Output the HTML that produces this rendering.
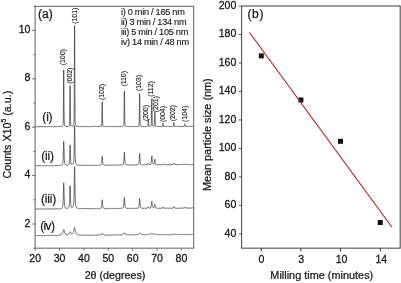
<!DOCTYPE html>
<html><head><meta charset="utf-8"><title>XRD and particle size</title>
<style>html,body{margin:0;padding:0;background:#fff}svg{display:block;will-change:transform;filter:blur(0.4px)}text{font-family:"Liberation Sans",sans-serif}</style></head>
<body>
<svg width="401" height="283" viewBox="0 0 401 283">
<rect width="401" height="283" fill="#fff"/>
<clipPath id="ca"><rect x="35.1" y="6.3" width="158.6" height="241.85"/></clipPath>
<g clip-path="url(#ca)" fill="none" stroke="#333" stroke-width="0.72" stroke-linejoin="round">
<path d="M35.20,126.56 L35.30,126.67 L35.39,126.69 L35.49,126.81 L35.59,126.84 L35.69,126.88 L35.78,126.78 L35.88,126.79 L35.98,126.84 L36.08,126.79 L36.17,126.70 L36.27,126.60 L36.37,126.57 L36.47,126.51 L36.56,126.60 L36.66,126.74 L36.76,126.78 L36.86,126.84 L36.95,126.89 L37.05,126.87 L37.15,126.69 L37.25,126.74 L37.34,126.73 L37.44,126.70 L37.54,126.66 L37.64,126.75 L37.73,126.81 L37.83,126.76 L37.93,126.68 L38.03,126.60 L38.12,126.66 L38.22,126.65 L38.32,126.69 L38.42,126.87 L38.51,127.04 L38.61,127.02 L38.71,126.92 L38.81,126.88 L38.90,126.84 L39.00,126.75 L39.10,126.71 L39.20,126.87 L39.29,126.90 L39.39,126.84 L39.49,126.93 L39.59,126.90 L39.68,126.93 L39.78,126.91 L39.88,126.82 L39.98,126.72 L40.07,126.66 L40.17,126.47 L40.27,126.36 L40.37,126.49 L40.46,126.49 L40.56,126.66 L40.66,126.76 L40.76,126.95 L40.85,126.83 L40.95,126.80 L41.05,126.70 L41.15,126.57 L41.24,126.49 L41.34,126.55 L41.44,126.61 L41.54,126.66 L41.63,126.74 L41.73,126.59 L41.83,126.66 L41.93,126.61 L42.02,126.56 L42.12,126.48 L42.22,126.57 L42.32,126.47 L42.41,126.48 L42.51,126.46 L42.61,126.64 L42.71,126.59 L42.80,126.71 L42.90,126.73 L43.00,126.71 L43.10,126.68 L43.19,126.75 L43.29,126.60 L43.39,126.62 L43.49,126.70 L43.58,126.82 L43.68,126.89 L43.78,126.99 L43.88,127.02 L43.97,127.02 L44.07,126.83 L44.17,126.81 L44.27,126.78 L44.36,126.71 L44.46,126.70 L44.56,126.74 L44.66,126.59 L44.75,126.53 L44.85,126.64 L44.95,126.60 L45.05,126.55 L45.14,126.60 L45.24,126.64 L45.34,126.60 L45.44,126.63 L45.53,126.63 L45.63,126.68 L45.73,126.72 L45.83,126.70 L45.92,126.68 L46.02,126.68 L46.12,126.73 L46.22,126.68 L46.31,126.62 L46.41,126.56 L46.51,126.65 L46.61,126.54 L46.70,126.60 L46.80,126.63 L46.90,126.70 L47.00,126.75 L47.09,126.81 L47.19,126.76 L47.29,126.79 L47.38,126.73 L47.48,126.66 L47.58,126.72 L47.68,126.75 L47.77,126.63 L47.87,126.60 L47.97,126.59 L48.07,126.52 L48.16,126.54 L48.26,126.67 L48.36,126.67 L48.46,126.67 L48.55,126.80 L48.65,126.82 L48.75,126.79 L48.85,126.83 L48.94,126.73 L49.04,126.67 L49.14,126.58 L49.24,126.56 L49.33,126.57 L49.43,126.60 L49.53,126.53 L49.63,126.62 L49.72,126.58 L49.82,126.64 L49.92,126.69 L50.02,126.72 L50.11,126.64 L50.21,126.74 L50.31,126.68 L50.41,126.69 L50.50,126.63 L50.60,126.70 L50.70,126.65 L50.80,126.67 L50.89,126.73 L50.99,126.64 L51.09,126.59 L51.19,126.68 L51.28,126.59 L51.38,126.57 L51.48,126.71 L51.58,126.65 L51.67,126.60 L51.77,126.71 L51.87,126.68 L51.97,126.71 L52.06,126.85 L52.16,126.88 L52.26,126.86 L52.36,126.77 L52.45,126.73 L52.55,126.54 L52.65,126.42 L52.75,126.44 L52.84,126.51 L52.94,126.66 L53.04,126.82 L53.14,126.92 L53.23,126.87 L53.33,126.83 L53.43,126.74 L53.53,126.72 L53.62,126.75 L53.72,126.77 L53.82,126.79 L53.92,126.74 L54.01,126.75 L54.11,126.54 L54.21,126.47 L54.31,126.49 L54.40,126.54 L54.50,126.51 L54.60,126.62 L54.70,126.69 L54.79,126.65 L54.89,126.58 L54.99,126.48 L55.09,126.42 L55.18,126.43 L55.28,126.43 L55.38,126.50 L55.48,126.61 L55.57,126.57 L55.67,126.59 L55.77,126.49 L55.87,126.49 L55.96,126.44 L56.06,126.49 L56.16,126.46 L56.26,126.55 L56.35,126.54 L56.45,126.58 L56.55,126.66 L56.65,126.69 L56.74,126.62 L56.84,126.62 L56.94,126.49 L57.04,126.63 L57.13,126.59 L57.23,126.65 L57.33,126.66 L57.43,126.70 L57.52,126.50 L57.62,126.52 L57.72,126.52 L57.82,126.34 L57.91,126.39 L58.01,126.41 L58.11,126.42 L58.21,126.43 L58.30,126.67 L58.40,126.69 L58.50,126.57 L58.60,126.48 L58.69,126.45 L58.79,126.31 L58.89,126.18 L58.99,126.29 L59.08,126.23 L59.18,126.20 L59.28,126.25 L59.38,126.26 L59.47,126.43 L59.57,126.58 L59.67,126.62 L59.76,126.68 L59.86,126.78 L59.96,126.68 L60.06,126.68 L60.15,126.53 L60.25,126.44 L60.35,126.43 L60.45,126.31 L60.54,126.28 L60.64,126.38 L60.74,126.39 L60.84,126.28 L60.93,126.43 L61.03,126.36 L61.13,126.39 L61.23,126.47 L61.32,126.48 L61.42,126.44 L61.52,126.37 L61.62,126.33 L61.71,126.20 L61.81,126.23 L61.91,126.09 L62.01,126.26 L62.10,126.24 L62.20,126.26 L62.30,126.19 L62.40,126.17 L62.49,125.93 L62.59,125.86 L62.69,125.57 L62.79,125.26 L62.88,124.99 L62.98,124.60 L63.08,123.73 L63.18,121.96 L63.27,117.94 L63.37,110.00 L63.47,97.22 L63.57,81.71 L63.66,69.93 L63.76,70.13 L63.86,81.96 L63.96,97.58 L64.05,110.24 L64.15,118.12 L64.25,122.13 L64.35,124.01 L64.44,124.78 L64.54,125.21 L64.64,125.58 L64.74,125.80 L64.83,125.90 L64.93,125.96 L65.03,126.17 L65.13,126.10 L65.22,126.06 L65.32,126.08 L65.42,126.19 L65.52,126.19 L65.61,126.32 L65.71,126.49 L65.81,126.52 L65.91,126.59 L66.00,126.60 L66.10,126.69 L66.20,126.46 L66.30,126.46 L66.39,126.32 L66.49,126.27 L66.59,126.27 L66.69,126.52 L66.78,126.56 L66.88,126.56 L66.98,126.61 L67.08,126.48 L67.17,126.30 L67.27,126.36 L67.37,126.39 L67.47,126.28 L67.56,126.35 L67.66,126.52 L67.76,126.44 L67.86,126.47 L67.95,126.55 L68.05,126.55 L68.15,126.41 L68.25,126.51 L68.34,126.41 L68.44,126.31 L68.54,126.15 L68.64,126.21 L68.73,126.01 L68.83,126.18 L68.93,126.18 L69.03,126.16 L69.12,126.01 L69.22,125.85 L69.32,125.43 L69.42,124.99 L69.51,124.14 L69.61,122.15 L69.71,118.20 L69.81,110.94 L69.90,100.67 L70.00,90.23 L70.10,85.51 L70.20,90.04 L70.29,100.44 L70.39,110.77 L70.49,118.10 L70.59,122.20 L70.68,124.17 L70.78,124.98 L70.88,125.28 L70.98,125.54 L71.07,125.62 L71.17,125.76 L71.27,125.72 L71.37,125.95 L71.46,125.95 L71.56,126.08 L71.66,126.09 L71.75,126.12 L71.85,126.12 L71.95,126.23 L72.05,126.27 L72.14,126.26 L72.24,126.43 L72.34,126.34 L72.44,126.32 L72.53,126.30 L72.63,126.31 L72.73,126.14 L72.83,126.13 L72.92,126.03 L73.02,125.89 L73.12,125.80 L73.22,125.87 L73.31,125.72 L73.41,125.52 L73.51,125.24 L73.61,124.84 L73.70,124.28 L73.80,123.73 L73.90,122.95 L74.00,121.32 L74.09,117.55 L74.19,109.07 L74.29,93.18 L74.39,69.08 L74.48,42.26 L74.58,25.58 L74.68,31.67 L74.78,55.34 L74.87,81.95 L74.97,102.22 L75.07,114.26 L75.17,120.00 L75.26,122.45 L75.36,123.53 L75.46,124.09 L75.56,124.51 L75.65,124.86 L75.75,125.19 L75.85,125.42 L75.95,125.57 L76.04,125.67 L76.14,125.90 L76.24,125.98 L76.34,126.10 L76.43,126.32 L76.53,126.41 L76.63,126.29 L76.73,126.22 L76.82,126.24 L76.92,126.13 L77.02,126.04 L77.12,126.19 L77.21,126.31 L77.31,126.30 L77.41,126.36 L77.51,126.54 L77.60,126.51 L77.70,126.46 L77.80,126.39 L77.90,126.31 L77.99,126.24 L78.09,126.13 L78.19,126.16 L78.29,126.31 L78.38,126.38 L78.48,126.39 L78.58,126.47 L78.68,126.52 L78.77,126.38 L78.87,126.41 L78.97,126.41 L79.07,126.39 L79.16,126.38 L79.26,126.47 L79.36,126.42 L79.46,126.43 L79.55,126.52 L79.65,126.57 L79.75,126.64 L79.85,126.74 L79.94,126.62 L80.04,126.63 L80.14,126.60 L80.24,126.59 L80.33,126.59 L80.43,126.61 L80.53,126.51 L80.63,126.55 L80.72,126.48 L80.82,126.50 L80.92,126.63 L81.02,126.74 L81.11,126.76 L81.21,126.74 L81.31,126.66 L81.41,126.59 L81.50,126.54 L81.60,126.57 L81.70,126.59 L81.80,126.68 L81.89,126.66 L81.99,126.62 L82.09,126.50 L82.19,126.52 L82.28,126.57 L82.38,126.57 L82.48,126.53 L82.58,126.66 L82.67,126.63 L82.77,126.46 L82.87,126.57 L82.97,126.54 L83.06,126.48 L83.16,126.55 L83.26,126.54 L83.36,126.46 L83.45,126.60 L83.55,126.53 L83.65,126.58 L83.75,126.56 L83.84,126.62 L83.94,126.57 L84.04,126.64 L84.13,126.50 L84.23,126.56 L84.33,126.56 L84.43,126.53 L84.52,126.52 L84.62,126.59 L84.72,126.65 L84.82,126.66 L84.91,126.75 L85.01,126.68 L85.11,126.65 L85.21,126.57 L85.30,126.49 L85.40,126.50 L85.50,126.67 L85.60,126.70 L85.69,126.75 L85.79,126.77 L85.89,126.76 L85.99,126.60 L86.08,126.66 L86.18,126.74 L86.28,126.74 L86.38,126.56 L86.47,126.60 L86.57,126.56 L86.67,126.45 L86.77,126.42 L86.86,126.49 L86.96,126.54 L87.06,126.52 L87.16,126.55 L87.25,126.57 L87.35,126.53 L87.45,126.39 L87.55,126.38 L87.64,126.42 L87.74,126.45 L87.84,126.55 L87.94,126.65 L88.03,126.57 L88.13,126.53 L88.23,126.45 L88.33,126.44 L88.42,126.53 L88.52,126.65 L88.62,126.72 L88.72,126.86 L88.81,126.96 L88.91,126.86 L89.01,126.76 L89.11,126.73 L89.20,126.72 L89.30,126.70 L89.40,126.79 L89.50,126.69 L89.59,126.80 L89.69,126.74 L89.79,126.60 L89.89,126.54 L89.98,126.67 L90.08,126.50 L90.18,126.57 L90.28,126.58 L90.37,126.50 L90.47,126.55 L90.57,126.64 L90.67,126.57 L90.76,126.54 L90.86,126.55 L90.96,126.45 L91.06,126.44 L91.15,126.51 L91.25,126.55 L91.35,126.61 L91.45,126.71 L91.54,126.67 L91.64,126.58 L91.74,126.54 L91.84,126.62 L91.93,126.52 L92.03,126.59 L92.13,126.63 L92.23,126.70 L92.32,126.55 L92.42,126.40 L92.52,126.31 L92.62,126.26 L92.71,126.20 L92.81,126.36 L92.91,126.51 L93.01,126.60 L93.10,126.53 L93.20,126.50 L93.30,126.40 L93.40,126.49 L93.49,126.32 L93.59,126.40 L93.69,126.47 L93.79,126.47 L93.88,126.52 L93.98,126.59 L94.08,126.55 L94.18,126.54 L94.27,126.56 L94.37,126.52 L94.47,126.50 L94.57,126.55 L94.66,126.57 L94.76,126.61 L94.86,126.50 L94.96,126.47 L95.05,126.46 L95.15,126.41 L95.25,126.30 L95.35,126.25 L95.44,126.31 L95.54,126.35 L95.64,126.42 L95.74,126.50 L95.83,126.56 L95.93,126.52 L96.03,126.53 L96.12,126.49 L96.22,126.55 L96.32,126.51 L96.42,126.59 L96.51,126.54 L96.61,126.59 L96.71,126.55 L96.81,126.66 L96.90,126.54 L97.00,126.54 L97.10,126.51 L97.20,126.54 L97.29,126.54 L97.39,126.60 L97.49,126.53 L97.59,126.60 L97.68,126.59 L97.78,126.57 L97.88,126.64 L97.98,126.83 L98.07,126.74 L98.17,126.64 L98.27,126.72 L98.37,126.67 L98.46,126.52 L98.56,126.46 L98.66,126.53 L98.76,126.30 L98.85,126.28 L98.95,126.38 L99.05,126.38 L99.15,126.41 L99.24,126.49 L99.34,126.59 L99.44,126.50 L99.54,126.58 L99.63,126.45 L99.73,126.45 L99.83,126.35 L99.93,126.38 L100.02,126.28 L100.12,126.44 L100.22,126.45 L100.32,126.44 L100.41,126.39 L100.51,126.39 L100.61,126.06 L100.71,126.05 L100.80,126.00 L100.90,125.99 L101.00,125.91 L101.10,126.19 L101.19,126.03 L101.29,126.03 L101.39,126.05 L101.49,126.02 L101.58,125.56 L101.68,124.86 L101.78,123.05 L101.88,119.38 L101.97,113.72 L102.07,106.91 L102.17,101.84 L102.27,101.81 L102.36,107.00 L102.46,113.83 L102.56,119.54 L102.66,122.98 L102.75,124.68 L102.85,125.56 L102.95,125.92 L103.05,126.05 L103.14,126.05 L103.24,126.27 L103.34,126.35 L103.44,126.45 L103.53,126.45 L103.63,126.46 L103.73,126.46 L103.83,126.38 L103.92,126.31 L104.02,126.31 L104.12,126.37 L104.22,126.37 L104.31,126.37 L104.41,126.36 L104.51,126.41 L104.61,126.42 L104.70,126.43 L104.80,126.47 L104.90,126.49 L105.00,126.44 L105.09,126.53 L105.19,126.51 L105.29,126.47 L105.39,126.56 L105.48,126.49 L105.58,126.39 L105.68,126.43 L105.78,126.61 L105.87,126.47 L105.97,126.62 L106.07,126.67 L106.17,126.63 L106.26,126.58 L106.36,126.70 L106.46,126.71 L106.56,126.69 L106.65,126.69 L106.75,126.61 L106.85,126.53 L106.95,126.48 L107.04,126.47 L107.14,126.54 L107.24,126.45 L107.34,126.47 L107.43,126.56 L107.53,126.63 L107.63,126.50 L107.73,126.69 L107.82,126.73 L107.92,126.59 L108.02,126.59 L108.12,126.63 L108.21,126.45 L108.31,126.47 L108.41,126.43 L108.50,126.42 L108.60,126.54 L108.70,126.62 L108.80,126.56 L108.89,126.66 L108.99,126.56 L109.09,126.59 L109.19,126.65 L109.28,126.73 L109.38,126.65 L109.48,126.65 L109.58,126.53 L109.67,126.55 L109.77,126.48 L109.87,126.50 L109.97,126.64 L110.06,126.73 L110.16,126.61 L110.26,126.58 L110.36,126.59 L110.45,126.47 L110.55,126.40 L110.65,126.43 L110.75,126.48 L110.84,126.54 L110.94,126.59 L111.04,126.63 L111.14,126.50 L111.23,126.48 L111.33,126.43 L111.43,126.43 L111.53,126.41 L111.62,126.56 L111.72,126.55 L111.82,126.55 L111.92,126.49 L112.01,126.52 L112.11,126.49 L112.21,126.47 L112.31,126.53 L112.40,126.57 L112.50,126.51 L112.60,126.55 L112.70,126.63 L112.79,126.67 L112.89,126.61 L112.99,126.68 L113.09,126.73 L113.18,126.67 L113.28,126.67 L113.38,126.68 L113.48,126.60 L113.57,126.49 L113.67,126.54 L113.77,126.50 L113.87,126.67 L113.96,126.61 L114.06,126.67 L114.16,126.69 L114.26,126.53 L114.35,126.46 L114.45,126.55 L114.55,126.54 L114.65,126.52 L114.74,126.67 L114.84,126.66 L114.94,126.58 L115.04,126.52 L115.13,126.68 L115.23,126.73 L115.33,126.68 L115.43,126.76 L115.52,126.83 L115.62,126.60 L115.72,126.58 L115.82,126.53 L115.91,126.52 L116.01,126.47 L116.11,126.51 L116.21,126.36 L116.30,126.44 L116.40,126.48 L116.50,126.47 L116.60,126.47 L116.69,126.59 L116.79,126.50 L116.89,126.40 L116.99,126.36 L117.08,126.36 L117.18,126.27 L117.28,126.37 L117.38,126.50 L117.47,126.57 L117.57,126.57 L117.67,126.63 L117.77,126.50 L117.86,126.54 L117.96,126.59 L118.06,126.63 L118.16,126.52 L118.25,126.64 L118.35,126.56 L118.45,126.57 L118.55,126.57 L118.64,126.72 L118.74,126.65 L118.84,126.59 L118.94,126.48 L119.03,126.48 L119.13,126.26 L119.23,126.37 L119.33,126.52 L119.42,126.59 L119.52,126.55 L119.62,126.65 L119.72,126.65 L119.81,126.49 L119.91,126.38 L120.01,126.43 L120.11,126.52 L120.20,126.56 L120.30,126.57 L120.40,126.62 L120.49,126.53 L120.59,126.43 L120.69,126.25 L120.79,126.25 L120.88,126.25 L120.98,126.34 L121.08,126.43 L121.18,126.50 L121.27,126.55 L121.37,126.56 L121.47,126.42 L121.57,126.35 L121.66,126.40 L121.76,126.39 L121.86,126.34 L121.96,126.46 L122.05,126.46 L122.15,126.43 L122.25,126.37 L122.35,126.37 L122.44,126.34 L122.54,126.41 L122.64,126.29 L122.74,126.26 L122.83,126.25 L122.93,126.19 L123.03,126.02 L123.13,125.98 L123.22,125.85 L123.32,125.83 L123.42,125.75 L123.52,125.63 L123.61,125.49 L123.71,125.19 L123.81,124.50 L123.91,122.98 L124.00,119.49 L124.10,113.19 L124.20,104.34 L124.30,95.30 L124.39,91.07 L124.49,95.16 L124.59,104.06 L124.69,112.94 L124.78,119.23 L124.88,122.76 L124.98,124.34 L125.08,125.10 L125.17,125.44 L125.27,125.79 L125.37,125.94 L125.47,126.20 L125.56,126.27 L125.66,126.27 L125.76,126.12 L125.86,126.14 L125.95,126.09 L126.05,126.23 L126.15,126.20 L126.25,126.42 L126.34,126.41 L126.44,126.52 L126.54,126.44 L126.64,126.52 L126.73,126.43 L126.83,126.50 L126.93,126.42 L127.03,126.47 L127.12,126.46 L127.22,126.46 L127.32,126.47 L127.42,126.42 L127.51,126.42 L127.61,126.42 L127.71,126.38 L127.81,126.42 L127.90,126.43 L128.00,126.32 L128.10,126.41 L128.20,126.37 L128.29,126.24 L128.39,126.26 L128.49,126.27 L128.59,126.14 L128.68,126.33 L128.78,126.38 L128.88,126.38 L128.98,126.44 L129.07,126.50 L129.17,126.46 L129.27,126.57 L129.37,126.65 L129.46,126.64 L129.56,126.64 L129.66,126.62 L129.76,126.55 L129.85,126.47 L129.95,126.39 L130.05,126.40 L130.15,126.44 L130.24,126.45 L130.34,126.38 L130.44,126.48 L130.54,126.54 L130.63,126.50 L130.73,126.54 L130.83,126.56 L130.93,126.65 L131.02,126.55 L131.12,126.57 L131.22,126.58 L131.32,126.62 L131.41,126.59 L131.51,126.64 L131.61,126.57 L131.71,126.53 L131.80,126.57 L131.90,126.42 L132.00,126.49 L132.10,126.53 L132.19,126.48 L132.29,126.36 L132.39,126.45 L132.49,126.41 L132.58,126.34 L132.68,126.51 L132.78,126.61 L132.87,126.69 L132.97,126.80 L133.07,126.75 L133.17,126.59 L133.26,126.49 L133.36,126.40 L133.46,126.26 L133.56,126.40 L133.65,126.44 L133.75,126.53 L133.85,126.51 L133.95,126.45 L134.04,126.43 L134.14,126.38 L134.24,126.39 L134.34,126.39 L134.43,126.55 L134.53,126.48 L134.63,126.53 L134.73,126.51 L134.82,126.53 L134.92,126.39 L135.02,126.43 L135.12,126.39 L135.21,126.39 L135.31,126.35 L135.41,126.36 L135.51,126.36 L135.60,126.29 L135.70,126.20 L135.80,126.18 L135.90,126.30 L135.99,126.23 L136.09,126.18 L136.19,126.29 L136.29,126.34 L136.38,126.38 L136.48,126.43 L136.58,126.61 L136.68,126.48 L136.77,126.60 L136.87,126.47 L136.97,126.47 L137.07,126.43 L137.16,126.57 L137.26,126.40 L137.36,126.43 L137.46,126.48 L137.55,126.44 L137.65,126.42 L137.75,126.43 L137.85,126.33 L137.94,126.32 L138.04,126.28 L138.14,126.26 L138.24,126.16 L138.33,126.23 L138.43,126.10 L138.53,126.21 L138.63,126.13 L138.72,126.15 L138.82,125.85 L138.92,125.61 L139.02,124.96 L139.11,123.69 L139.21,120.76 L139.31,115.61 L139.41,107.74 L139.50,99.00 L139.60,93.62 L139.70,95.64 L139.80,103.24 L139.89,111.98 L139.99,118.46 L140.09,122.32 L140.19,124.17 L140.28,125.15 L140.38,125.53 L140.48,125.88 L140.58,125.99 L140.67,126.16 L140.77,126.13 L140.87,126.24 L140.97,126.12 L141.06,126.16 L141.16,126.22 L141.26,126.38 L141.36,126.44 L141.45,126.58 L141.55,126.48 L141.65,126.55 L141.75,126.53 L141.84,126.38 L141.94,126.45 L142.04,126.52 L142.14,126.49 L142.23,126.46 L142.33,126.48 L142.43,126.37 L142.53,126.42 L142.62,126.35 L142.72,126.33 L142.82,126.42 L142.92,126.43 L143.01,126.50 L143.11,126.46 L143.21,126.57 L143.31,126.52 L143.40,126.41 L143.50,126.29 L143.60,126.38 L143.70,126.36 L143.79,126.40 L143.89,126.45 L143.99,126.48 L144.09,126.46 L144.18,126.27 L144.28,126.28 L144.38,126.36 L144.48,126.40 L144.57,126.39 L144.67,126.52 L144.77,126.49 L144.86,126.42 L144.96,126.37 L145.06,126.40 L145.16,126.55 L145.25,126.49 L145.35,126.59 L145.45,126.66 L145.55,126.65 L145.64,126.58 L145.74,126.67 L145.84,126.61 L145.94,126.59 L146.03,126.57 L146.13,126.54 L146.23,126.51 L146.33,126.57 L146.42,126.56 L146.52,126.56 L146.62,126.52 L146.72,126.59 L146.81,126.53 L146.91,126.50 L147.01,126.44 L147.11,126.41 L147.20,126.34 L147.30,126.37 L147.40,126.24 L147.50,126.32 L147.59,126.31 L147.69,126.16 L147.79,125.88 L147.89,125.25 L147.98,123.98 L148.08,122.17 L148.18,120.50 L148.28,119.64 L148.37,120.43 L148.47,122.10 L148.57,123.67 L148.67,124.76 L148.76,125.51 L148.86,125.87 L148.96,126.07 L149.06,126.24 L149.15,126.34 L149.25,126.22 L149.35,126.26 L149.45,126.21 L149.54,126.19 L149.64,126.22 L149.74,126.36 L149.84,126.40 L149.93,126.34 L150.03,126.40 L150.13,126.36 L150.23,126.28 L150.32,126.14 L150.42,126.18 L150.52,126.16 L150.62,126.13 L150.71,126.03 L150.81,126.03 L150.91,125.91 L151.01,125.69 L151.10,125.53 L151.20,125.14 L151.30,124.06 L151.40,121.74 L151.49,117.48 L151.59,110.73 L151.69,103.23 L151.79,98.64 L151.88,100.34 L151.98,106.83 L152.08,114.11 L152.18,119.65 L152.27,122.89 L152.37,124.45 L152.47,125.19 L152.57,125.59 L152.66,125.76 L152.76,125.91 L152.86,125.96 L152.96,125.96 L153.05,125.98 L153.15,126.03 L153.25,126.14 L153.35,126.21 L153.44,126.27 L153.54,126.23 L153.64,126.28 L153.74,126.17 L153.83,126.16 L153.93,126.06 L154.03,126.01 L154.13,125.88 L154.22,125.69 L154.32,125.21 L154.42,124.18 L154.52,122.22 L154.61,118.98 L154.71,115.07 L154.81,112.13 L154.91,112.17 L155.00,115.14 L155.10,119.13 L155.20,122.26 L155.30,124.27 L155.39,125.26 L155.49,125.72 L155.59,125.97 L155.69,126.17 L155.78,126.29 L155.88,126.39 L155.98,126.41 L156.08,126.24 L156.17,126.22 L156.27,126.24 L156.37,126.27 L156.47,126.23 L156.56,126.34 L156.66,126.29 L156.76,126.26 L156.86,126.28 L156.95,126.45 L157.05,126.49 L157.15,126.52 L157.24,126.54 L157.34,126.46 L157.44,126.36 L157.54,126.29 L157.63,126.38 L157.73,126.33 L157.83,126.26 L157.93,126.36 L158.02,126.36 L158.12,126.26 L158.22,126.24 L158.32,126.27 L158.41,126.37 L158.51,126.43 L158.61,126.59 L158.71,126.64 L158.80,126.74 L158.90,126.54 L159.00,126.58 L159.10,126.46 L159.19,126.53 L159.29,126.47 L159.39,126.51 L159.49,126.56 L159.58,126.72 L159.68,126.73 L159.78,126.85 L159.88,126.82 L159.97,126.65 L160.07,126.50 L160.17,126.47 L160.27,126.55 L160.36,126.57 L160.46,126.73 L160.56,126.79 L160.66,126.75 L160.75,126.47 L160.85,126.55 L160.95,126.45 L161.05,126.33 L161.14,126.32 L161.24,126.51 L161.34,126.31 L161.44,126.45 L161.53,126.65 L161.63,126.70 L161.73,126.63 L161.83,126.67 L161.92,126.55 L162.02,126.32 L162.12,126.25 L162.22,126.26 L162.31,126.30 L162.41,126.17 L162.51,126.18 L162.61,125.94 L162.70,125.37 L162.80,124.57 L162.90,123.79 L163.00,123.37 L163.09,123.58 L163.19,124.39 L163.29,125.27 L163.39,125.95 L163.48,126.24 L163.58,126.31 L163.68,126.42 L163.78,126.43 L163.87,126.45 L163.97,126.47 L164.07,126.54 L164.17,126.44 L164.26,126.44 L164.36,126.47 L164.46,126.42 L164.56,126.40 L164.65,126.42 L164.75,126.46 L164.85,126.35 L164.95,126.35 L165.04,126.42 L165.14,126.52 L165.24,126.59 L165.34,126.62 L165.43,126.68 L165.53,126.64 L165.63,126.57 L165.73,126.41 L165.82,126.31 L165.92,126.28 L166.02,126.14 L166.12,126.10 L166.21,126.11 L166.31,126.25 L166.41,126.31 L166.51,126.40 L166.60,126.36 L166.70,126.52 L166.80,126.50 L166.90,126.42 L166.99,126.41 L167.09,126.55 L167.19,126.49 L167.29,126.43 L167.38,126.34 L167.48,126.37 L167.58,126.25 L167.68,126.21 L167.77,126.24 L167.87,126.36 L167.97,126.38 L168.07,126.47 L168.16,126.48 L168.26,126.44 L168.36,126.40 L168.46,126.35 L168.55,126.36 L168.65,126.32 L168.75,126.57 L168.85,126.66 L168.94,126.72 L169.04,126.79 L169.14,126.80 L169.23,126.60 L169.33,126.57 L169.43,126.55 L169.53,126.53 L169.62,126.61 L169.72,126.65 L169.82,126.69 L169.92,126.63 L170.01,126.58 L170.11,126.47 L170.21,126.45 L170.31,126.34 L170.40,126.46 L170.50,126.44 L170.60,126.52 L170.70,126.50 L170.79,126.43 L170.89,126.41 L170.99,126.40 L171.09,126.36 L171.18,126.32 L171.28,126.40 L171.38,126.39 L171.48,126.42 L171.57,126.44 L171.67,126.47 L171.77,126.50 L171.87,126.49 L171.96,126.41 L172.06,126.41 L172.16,126.46 L172.26,126.37 L172.35,126.31 L172.45,126.31 L172.55,126.27 L172.65,126.25 L172.74,126.27 L172.84,126.28 L172.94,126.29 L173.04,126.41 L173.13,126.36 L173.23,126.29 L173.33,126.14 L173.43,125.85 L173.52,125.14 L173.62,124.25 L173.72,123.16 L173.82,122.45 L173.91,122.44 L174.01,123.27 L174.11,124.26 L174.21,125.22 L174.30,125.63 L174.40,125.85 L174.50,126.10 L174.60,126.38 L174.69,126.26 L174.79,126.34 L174.89,126.45 L174.99,126.35 L175.08,126.21 L175.18,126.25 L175.28,126.15 L175.38,126.14 L175.47,126.30 L175.57,126.28 L175.67,126.33 L175.77,126.38 L175.86,126.35 L175.96,126.34 L176.06,126.38 L176.16,126.40 L176.25,126.46 L176.35,126.49 L176.45,126.42 L176.55,126.41 L176.64,126.47 L176.74,126.42 L176.84,126.50 L176.94,126.39 L177.03,126.44 L177.13,126.37 L177.23,126.33 L177.33,126.26 L177.42,126.46 L177.52,126.50 L177.62,126.48 L177.72,126.54 L177.81,126.48 L177.91,126.39 L178.01,126.33 L178.11,126.32 L178.20,126.26 L178.30,126.36 L178.40,126.17 L178.50,126.16 L178.59,126.12 L178.69,126.09 L178.79,125.99 L178.89,126.18 L178.98,126.11 L179.08,126.11 L179.18,126.37 L179.28,126.40 L179.37,126.44 L179.47,126.52 L179.57,126.59 L179.67,126.43 L179.76,126.43 L179.86,126.44 L179.96,126.33 L180.06,126.46 L180.15,126.53 L180.25,126.63 L180.35,126.59 L180.45,126.68 L180.54,126.53 L180.64,126.52 L180.74,126.38 L180.84,126.34 L180.93,126.34 L181.03,126.47 L181.13,126.49 L181.23,126.66 L181.32,126.63 L181.42,126.56 L181.52,126.53 L181.61,126.35 L181.71,126.28 L181.81,126.48 L181.91,126.46 L182.00,126.31 L182.10,126.42 L182.20,126.46 L182.30,126.25 L182.39,126.34 L182.49,126.42 L182.59,126.39 L182.69,126.32 L182.78,126.42 L182.88,126.45 L182.98,126.40 L183.08,126.56 L183.17,126.55 L183.27,126.51 L183.37,126.42 L183.47,126.48 L183.56,126.33 L183.66,126.30 L183.76,126.37 L183.86,126.39 L183.95,126.34 L184.05,126.41 L184.15,126.48 L184.25,126.28 L184.34,126.11 L184.44,125.93 L184.54,125.37 L184.64,124.66 L184.73,124.04 L184.83,123.74 L184.93,124.13 L185.03,124.82 L185.12,125.39 L185.22,125.82 L185.32,126.17 L185.42,126.22 L185.51,126.24 L185.61,126.38 L185.71,126.49 L185.81,126.53 L185.90,126.42 L186.00,126.41 L186.10,126.35 L186.20,126.41 L186.29,126.45 L186.39,126.57 L186.49,126.57 L186.59,126.71 L186.68,126.61 L186.78,126.41 L186.88,126.37 L186.98,126.41 L187.07,126.25 L187.17,126.24 L187.27,126.37 L187.37,126.35 L187.46,126.33 L187.56,126.40 L187.66,126.42 L187.76,126.37 L187.85,126.28 L187.95,126.39 L188.05,126.30 L188.15,126.29 L188.24,126.32 L188.34,126.37 L188.44,126.21 L188.54,126.26 L188.63,126.33 L188.73,126.30 L188.83,126.37 L188.93,126.50 L189.02,126.57 L189.12,126.60 L189.22,126.60 L189.32,126.51 L189.41,126.42 L189.51,126.29 L189.61,126.25 L189.71,126.30 L189.80,126.39 L189.90,126.45 L190.00,126.55 L190.10,126.47 L190.19,126.52 L190.29,126.44 L190.39,126.39 L190.49,126.32 L190.58,126.43 L190.68,126.30 L190.78,126.36 L190.88,126.32 L190.97,126.48 L191.07,126.43 L191.17,126.43 L191.27,126.49 L191.36,126.47 L191.46,126.43 L191.56,126.40 L191.66,126.44 L191.75,126.31 L191.85,126.33 L191.95,126.34 L192.05,126.30 L192.14,126.23 L192.24,126.33 L192.34,126.32 L192.44,126.22 L192.53,126.35 L192.63,126.48 L192.73,126.35 L192.83,126.40 L192.92,126.38 L193.02,126.23 L193.12,126.14 L193.22,126.26 L193.31,126.18 L193.41,126.31 L193.51,126.43 L193.60,126.46"/>
<path d="M35.20,165.72 L35.30,165.70 L35.39,165.75 L35.49,165.71 L35.59,165.84 L35.69,165.93 L35.78,165.98 L35.88,165.89 L35.98,165.84 L36.08,165.84 L36.17,165.75 L36.27,165.70 L36.37,165.76 L36.47,165.84 L36.56,165.85 L36.66,165.70 L36.76,165.76 L36.86,165.68 L36.95,165.63 L37.05,165.70 L37.15,165.86 L37.25,165.82 L37.34,165.89 L37.44,165.89 L37.54,165.87 L37.64,165.87 L37.73,165.81 L37.83,165.79 L37.93,165.84 L38.03,165.80 L38.12,165.66 L38.22,165.73 L38.32,165.80 L38.42,165.72 L38.51,165.62 L38.61,165.65 L38.71,165.68 L38.81,165.71 L38.90,165.69 L39.00,165.80 L39.10,165.83 L39.20,165.78 L39.29,165.60 L39.39,165.65 L39.49,165.66 L39.59,165.68 L39.68,165.73 L39.78,165.80 L39.88,165.81 L39.98,165.89 L40.07,165.95 L40.17,165.96 L40.27,166.04 L40.37,166.02 L40.46,165.86 L40.56,165.79 L40.66,165.80 L40.76,165.81 L40.85,165.79 L40.95,165.86 L41.05,165.88 L41.15,165.87 L41.24,165.88 L41.34,165.81 L41.44,165.83 L41.54,165.83 L41.63,165.82 L41.73,165.65 L41.83,165.77 L41.93,165.75 L42.02,165.74 L42.12,165.69 L42.22,165.69 L42.32,165.76 L42.41,165.72 L42.51,165.75 L42.61,165.77 L42.71,165.87 L42.80,165.76 L42.90,165.85 L43.00,165.85 L43.10,165.80 L43.19,165.80 L43.29,165.84 L43.39,165.76 L43.49,165.73 L43.58,165.77 L43.68,165.74 L43.78,165.76 L43.88,165.74 L43.97,165.79 L44.07,165.85 L44.17,165.83 L44.27,165.85 L44.36,165.94 L44.46,165.90 L44.56,165.79 L44.66,165.83 L44.75,165.79 L44.85,165.76 L44.95,165.73 L45.05,165.79 L45.14,165.75 L45.24,165.67 L45.34,165.66 L45.44,165.69 L45.53,165.71 L45.63,165.76 L45.73,165.88 L45.83,165.92 L45.92,165.93 L46.02,165.87 L46.12,165.81 L46.22,165.77 L46.31,165.70 L46.41,165.74 L46.51,165.65 L46.61,165.56 L46.70,165.54 L46.80,165.53 L46.90,165.46 L47.00,165.53 L47.09,165.67 L47.19,165.74 L47.29,165.72 L47.38,165.78 L47.48,165.80 L47.58,165.81 L47.68,165.78 L47.77,165.77 L47.87,165.64 L47.97,165.66 L48.07,165.63 L48.16,165.58 L48.26,165.65 L48.36,165.81 L48.46,165.81 L48.55,165.89 L48.65,165.88 L48.75,165.88 L48.85,165.79 L48.94,165.86 L49.04,165.78 L49.14,165.78 L49.24,165.69 L49.33,165.65 L49.43,165.56 L49.53,165.58 L49.63,165.58 L49.72,165.64 L49.82,165.69 L49.92,165.65 L50.02,165.63 L50.11,165.57 L50.21,165.61 L50.31,165.62 L50.41,165.69 L50.50,165.72 L50.60,165.82 L50.70,165.79 L50.80,165.83 L50.89,165.87 L50.99,165.87 L51.09,165.87 L51.19,165.82 L51.28,165.75 L51.38,165.72 L51.48,165.64 L51.58,165.67 L51.67,165.72 L51.77,165.72 L51.87,165.74 L51.97,165.83 L52.06,165.81 L52.16,165.77 L52.26,165.68 L52.36,165.67 L52.45,165.58 L52.55,165.57 L52.65,165.67 L52.75,165.81 L52.84,165.72 L52.94,165.76 L53.04,165.73 L53.14,165.60 L53.23,165.53 L53.33,165.62 L53.43,165.56 L53.53,165.59 L53.62,165.65 L53.72,165.64 L53.82,165.58 L53.92,165.56 L54.01,165.60 L54.11,165.68 L54.21,165.69 L54.31,165.77 L54.40,165.83 L54.50,165.72 L54.60,165.69 L54.70,165.68 L54.79,165.64 L54.89,165.70 L54.99,165.72 L55.09,165.66 L55.18,165.57 L55.28,165.62 L55.38,165.54 L55.48,165.55 L55.57,165.60 L55.67,165.73 L55.77,165.64 L55.87,165.63 L55.96,165.62 L56.06,165.65 L56.16,165.53 L56.26,165.59 L56.35,165.61 L56.45,165.59 L56.55,165.48 L56.65,165.57 L56.74,165.50 L56.84,165.39 L56.94,165.41 L57.04,165.53 L57.13,165.45 L57.23,165.45 L57.33,165.57 L57.43,165.50 L57.52,165.44 L57.62,165.47 L57.72,165.46 L57.82,165.40 L57.91,165.42 L58.01,165.41 L58.11,165.38 L58.21,165.43 L58.30,165.42 L58.40,165.45 L58.50,165.42 L58.60,165.45 L58.69,165.40 L58.79,165.41 L58.89,165.38 L58.99,165.37 L59.08,165.35 L59.18,165.43 L59.28,165.41 L59.38,165.40 L59.47,165.41 L59.57,165.36 L59.67,165.32 L59.76,165.33 L59.86,165.42 L59.96,165.51 L60.06,165.53 L60.15,165.52 L60.25,165.50 L60.35,165.41 L60.45,165.36 L60.54,165.28 L60.64,165.33 L60.74,165.30 L60.84,165.38 L60.93,165.33 L61.03,165.33 L61.13,165.31 L61.23,165.29 L61.32,165.20 L61.42,165.14 L61.52,165.15 L61.62,165.00 L61.71,164.94 L61.81,164.87 L61.91,164.78 L62.01,164.69 L62.10,164.65 L62.20,164.63 L62.30,164.49 L62.40,164.41 L62.49,164.19 L62.59,163.98 L62.69,163.67 L62.79,163.23 L62.88,162.61 L62.98,161.81 L63.08,160.30 L63.18,158.24 L63.27,155.42 L63.37,151.85 L63.47,147.68 L63.57,143.82 L63.66,141.29 L63.76,141.35 L63.86,143.86 L63.96,147.78 L64.05,151.84 L64.15,155.25 L64.25,158.07 L64.35,160.12 L64.44,161.44 L64.54,162.38 L64.64,163.05 L64.74,163.54 L64.83,163.90 L64.93,164.25 L65.03,164.47 L65.13,164.62 L65.22,164.52 L65.32,164.61 L65.42,164.68 L65.52,164.70 L65.61,164.77 L65.71,164.89 L65.81,164.88 L65.91,164.94 L66.00,164.90 L66.10,164.91 L66.20,165.05 L66.30,165.06 L66.39,165.04 L66.49,165.22 L66.59,165.21 L66.69,165.15 L66.78,165.16 L66.88,165.19 L66.98,165.04 L67.08,165.08 L67.17,165.12 L67.27,165.19 L67.37,165.20 L67.47,165.24 L67.56,165.15 L67.66,165.15 L67.76,165.13 L67.86,165.05 L67.95,165.06 L68.05,165.06 L68.15,165.00 L68.25,164.85 L68.34,164.89 L68.44,164.88 L68.54,164.88 L68.64,164.78 L68.73,164.65 L68.83,164.37 L68.93,164.22 L69.03,163.89 L69.12,163.61 L69.22,163.22 L69.32,162.58 L69.42,161.65 L69.51,160.37 L69.61,158.35 L69.71,155.67 L69.81,152.45 L69.90,148.87 L70.00,146.02 L70.10,144.80 L70.20,145.95 L70.29,148.74 L70.39,152.21 L70.49,155.32 L70.59,158.06 L70.68,160.00 L70.78,161.56 L70.88,162.50 L70.98,163.26 L71.07,163.63 L71.17,163.99 L71.27,164.17 L71.37,164.31 L71.46,164.30 L71.56,164.37 L71.66,164.38 L71.75,164.35 L71.85,164.33 L71.95,164.34 L72.05,164.34 L72.14,164.26 L72.24,164.31 L72.34,164.31 L72.44,164.38 L72.53,164.24 L72.63,164.29 L72.73,164.19 L72.83,164.08 L72.92,163.93 L73.02,163.96 L73.12,163.89 L73.22,163.72 L73.31,163.46 L73.41,163.15 L73.51,162.64 L73.61,161.98 L73.70,161.24 L73.80,160.27 L73.90,158.58 L74.00,156.08 L74.09,152.49 L74.19,147.57 L74.29,141.41 L74.39,134.72 L74.48,128.81 L74.58,125.59 L74.68,126.71 L74.78,131.68 L74.87,138.29 L74.97,144.77 L75.07,150.28 L75.17,154.58 L75.26,157.62 L75.36,159.73 L75.46,161.08 L75.56,162.03 L75.65,162.71 L75.75,163.25 L75.85,163.59 L75.95,163.89 L76.04,164.08 L76.14,164.19 L76.24,164.25 L76.34,164.32 L76.43,164.45 L76.53,164.51 L76.63,164.58 L76.73,164.62 L76.82,164.71 L76.92,164.72 L77.02,164.83 L77.12,164.97 L77.21,165.06 L77.31,165.14 L77.41,165.26 L77.51,165.23 L77.60,165.17 L77.70,165.14 L77.80,165.10 L77.90,165.04 L77.99,165.06 L78.09,165.12 L78.19,165.27 L78.29,165.15 L78.38,165.11 L78.48,165.08 L78.58,165.07 L78.68,165.02 L78.77,165.13 L78.87,165.19 L78.97,165.32 L79.07,165.35 L79.16,165.29 L79.26,165.23 L79.36,165.22 L79.46,165.18 L79.55,165.22 L79.65,165.16 L79.75,165.23 L79.85,165.22 L79.94,165.21 L80.04,165.21 L80.14,165.21 L80.24,165.19 L80.33,165.17 L80.43,165.21 L80.53,165.15 L80.63,165.19 L80.72,165.24 L80.82,165.34 L80.92,165.36 L81.02,165.42 L81.11,165.45 L81.21,165.44 L81.31,165.49 L81.41,165.37 L81.50,165.24 L81.60,165.23 L81.70,165.31 L81.80,165.22 L81.89,165.24 L81.99,165.35 L82.09,165.44 L82.19,165.37 L82.28,165.47 L82.38,165.52 L82.48,165.43 L82.58,165.36 L82.67,165.27 L82.77,165.17 L82.87,165.19 L82.97,165.24 L83.06,165.31 L83.16,165.43 L83.26,165.47 L83.36,165.48 L83.45,165.49 L83.55,165.46 L83.65,165.40 L83.75,165.33 L83.84,165.36 L83.94,165.43 L84.04,165.48 L84.13,165.39 L84.23,165.39 L84.33,165.38 L84.43,165.29 L84.52,165.25 L84.62,165.36 L84.72,165.39 L84.82,165.34 L84.91,165.27 L85.01,165.28 L85.11,165.27 L85.21,165.30 L85.30,165.33 L85.40,165.34 L85.50,165.36 L85.60,165.24 L85.69,165.19 L85.79,165.14 L85.89,165.24 L85.99,165.22 L86.08,165.35 L86.18,165.37 L86.28,165.52 L86.38,165.45 L86.47,165.52 L86.57,165.47 L86.67,165.43 L86.77,165.33 L86.86,165.36 L86.96,165.29 L87.06,165.32 L87.16,165.35 L87.25,165.30 L87.35,165.26 L87.45,165.18 L87.55,165.16 L87.64,165.20 L87.74,165.26 L87.84,165.35 L87.94,165.44 L88.03,165.47 L88.13,165.36 L88.23,165.31 L88.33,165.17 L88.42,165.24 L88.52,165.19 L88.62,165.23 L88.72,165.24 L88.81,165.34 L88.91,165.24 L89.01,165.25 L89.11,165.29 L89.20,165.30 L89.30,165.23 L89.40,165.22 L89.50,165.21 L89.59,165.22 L89.69,165.21 L89.79,165.29 L89.89,165.27 L89.98,165.30 L90.08,165.25 L90.18,165.30 L90.28,165.27 L90.37,165.31 L90.47,165.34 L90.57,165.33 L90.67,165.28 L90.76,165.27 L90.86,165.21 L90.96,165.17 L91.06,165.22 L91.15,165.19 L91.25,165.07 L91.35,165.13 L91.45,165.03 L91.54,165.02 L91.64,165.11 L91.74,165.20 L91.84,165.15 L91.93,165.21 L92.03,165.20 L92.13,165.21 L92.23,165.34 L92.32,165.39 L92.42,165.47 L92.52,165.50 L92.62,165.48 L92.71,165.37 L92.81,165.34 L92.91,165.35 L93.01,165.36 L93.10,165.34 L93.20,165.28 L93.30,165.32 L93.40,165.28 L93.49,165.30 L93.59,165.21 L93.69,165.31 L93.79,165.31 L93.88,165.26 L93.98,165.29 L94.08,165.41 L94.18,165.46 L94.27,165.51 L94.37,165.49 L94.47,165.42 L94.57,165.47 L94.66,165.31 L94.76,165.33 L94.86,165.40 L94.96,165.33 L95.05,165.22 L95.15,165.29 L95.25,165.16 L95.35,165.11 L95.44,165.17 L95.54,165.22 L95.64,165.22 L95.74,165.29 L95.83,165.24 L95.93,165.28 L96.03,165.26 L96.12,165.36 L96.22,165.44 L96.32,165.45 L96.42,165.44 L96.51,165.45 L96.61,165.31 L96.71,165.25 L96.81,165.27 L96.90,165.27 L97.00,165.35 L97.10,165.34 L97.20,165.26 L97.29,165.20 L97.39,165.18 L97.49,165.07 L97.59,165.08 L97.68,165.08 L97.78,165.08 L97.88,165.09 L97.98,165.11 L98.07,165.14 L98.17,165.23 L98.27,165.32 L98.37,165.31 L98.46,165.41 L98.56,165.38 L98.66,165.37 L98.76,165.40 L98.85,165.40 L98.95,165.32 L99.05,165.27 L99.15,165.30 L99.24,165.23 L99.34,165.20 L99.44,165.20 L99.54,165.31 L99.63,165.23 L99.73,165.24 L99.83,165.29 L99.93,165.31 L100.02,165.21 L100.12,165.14 L100.22,165.13 L100.32,165.04 L100.41,164.89 L100.51,164.85 L100.61,164.92 L100.71,164.83 L100.80,164.78 L100.90,164.66 L101.00,164.63 L101.10,164.47 L101.19,164.34 L101.29,164.18 L101.39,164.11 L101.49,163.76 L101.58,163.21 L101.68,162.51 L101.78,161.50 L101.88,160.18 L101.97,158.69 L102.07,157.31 L102.17,156.33 L102.27,156.36 L102.36,157.27 L102.46,158.74 L102.56,160.23 L102.66,161.56 L102.75,162.47 L102.85,163.23 L102.95,163.70 L103.05,164.08 L103.14,164.34 L103.24,164.55 L103.34,164.61 L103.44,164.70 L103.53,164.80 L103.63,164.71 L103.73,164.71 L103.83,164.79 L103.92,164.91 L104.02,164.91 L104.12,165.04 L104.22,165.19 L104.31,165.16 L104.41,165.15 L104.51,165.00 L104.61,165.03 L104.70,165.01 L104.80,164.94 L104.90,164.90 L105.00,165.04 L105.09,165.03 L105.19,164.99 L105.29,165.11 L105.39,165.12 L105.48,165.15 L105.58,165.22 L105.68,165.26 L105.78,165.24 L105.87,165.17 L105.97,165.14 L106.07,165.09 L106.17,165.07 L106.26,165.05 L106.36,165.23 L106.46,165.27 L106.56,165.35 L106.65,165.44 L106.75,165.50 L106.85,165.40 L106.95,165.38 L107.04,165.28 L107.14,165.14 L107.24,165.08 L107.34,165.06 L107.43,165.07 L107.53,164.99 L107.63,164.99 L107.73,165.04 L107.82,165.08 L107.92,165.03 L108.02,165.07 L108.12,165.15 L108.21,165.07 L108.31,165.10 L108.41,165.14 L108.50,165.14 L108.60,165.15 L108.70,165.20 L108.80,165.14 L108.89,165.14 L108.99,165.28 L109.09,165.27 L109.19,165.26 L109.28,165.25 L109.38,165.20 L109.48,165.07 L109.58,165.07 L109.67,165.09 L109.77,165.02 L109.87,165.01 L109.97,165.06 L110.06,165.05 L110.16,164.99 L110.26,165.02 L110.36,165.06 L110.45,165.04 L110.55,165.03 L110.65,165.08 L110.75,165.04 L110.84,165.09 L110.94,165.08 L111.04,165.13 L111.14,165.16 L111.23,165.20 L111.33,165.21 L111.43,165.28 L111.53,165.29 L111.62,165.28 L111.72,165.31 L111.82,165.19 L111.92,165.18 L112.01,165.08 L112.11,165.11 L112.21,165.02 L112.31,165.10 L112.40,165.09 L112.50,165.12 L112.60,165.06 L112.70,165.17 L112.79,165.23 L112.89,165.17 L112.99,165.15 L113.09,165.17 L113.18,165.22 L113.28,165.13 L113.38,165.11 L113.48,165.23 L113.57,165.26 L113.67,165.20 L113.77,165.25 L113.87,165.32 L113.96,165.24 L114.06,165.15 L114.16,165.12 L114.26,165.03 L114.35,164.98 L114.45,165.00 L114.55,165.15 L114.65,165.17 L114.74,165.19 L114.84,165.21 L114.94,165.21 L115.04,165.01 L115.13,165.10 L115.23,165.08 L115.33,165.08 L115.43,165.00 L115.52,165.02 L115.62,164.92 L115.72,164.94 L115.82,164.98 L115.91,164.99 L116.01,165.03 L116.11,165.02 L116.21,165.09 L116.30,165.14 L116.40,165.18 L116.50,165.17 L116.60,165.28 L116.69,165.27 L116.79,165.21 L116.89,165.20 L116.99,165.21 L117.08,165.09 L117.18,165.05 L117.28,165.01 L117.38,164.96 L117.47,164.99 L117.57,164.93 L117.67,164.93 L117.77,164.95 L117.86,165.09 L117.96,165.08 L118.06,165.21 L118.16,165.22 L118.25,165.21 L118.35,165.17 L118.45,165.16 L118.55,165.22 L118.64,165.21 L118.74,165.16 L118.84,165.10 L118.94,165.08 L119.03,165.03 L119.13,165.07 L119.23,165.06 L119.33,165.02 L119.42,165.00 L119.52,164.96 L119.62,164.84 L119.72,164.92 L119.81,164.94 L119.91,164.94 L120.01,164.98 L120.11,164.96 L120.20,164.94 L120.30,164.93 L120.40,165.02 L120.49,165.03 L120.59,165.11 L120.69,165.09 L120.79,165.07 L120.88,164.98 L120.98,164.92 L121.08,164.87 L121.18,164.89 L121.27,164.93 L121.37,164.92 L121.47,164.94 L121.57,164.94 L121.66,164.99 L121.76,165.02 L121.86,165.00 L121.96,164.98 L122.05,164.96 L122.15,164.86 L122.25,164.82 L122.35,164.75 L122.44,164.67 L122.54,164.69 L122.64,164.69 L122.74,164.64 L122.83,164.73 L122.93,164.64 L123.03,164.55 L123.13,164.52 L123.22,164.47 L123.32,164.20 L123.42,164.05 L123.52,163.67 L123.61,163.18 L123.71,162.49 L123.81,161.55 L123.91,160.18 L124.00,158.63 L124.10,156.54 L124.20,154.44 L124.30,152.75 L124.39,152.21 L124.49,152.86 L124.59,154.75 L124.69,156.91 L124.78,158.84 L124.88,160.41 L124.98,161.73 L125.08,162.68 L125.17,163.24 L125.27,163.85 L125.37,164.21 L125.47,164.36 L125.56,164.37 L125.66,164.48 L125.76,164.42 L125.86,164.44 L125.95,164.56 L126.05,164.64 L126.15,164.61 L126.25,164.68 L126.34,164.70 L126.44,164.66 L126.54,164.75 L126.64,164.90 L126.73,164.99 L126.83,165.00 L126.93,165.05 L127.03,165.06 L127.12,165.08 L127.22,164.98 L127.32,164.97 L127.42,164.94 L127.51,164.88 L127.61,164.81 L127.71,164.85 L127.81,164.87 L127.90,164.92 L128.00,164.97 L128.10,165.03 L128.20,165.02 L128.29,164.97 L128.39,164.99 L128.49,165.00 L128.59,164.93 L128.68,164.91 L128.78,165.02 L128.88,165.01 L128.98,164.99 L129.07,165.01 L129.17,164.90 L129.27,164.91 L129.37,164.87 L129.46,164.86 L129.56,164.87 L129.66,165.00 L129.76,164.95 L129.85,165.01 L129.95,165.04 L130.05,165.00 L130.15,165.01 L130.24,165.01 L130.34,164.94 L130.44,164.93 L130.54,164.92 L130.63,164.97 L130.73,165.03 L130.83,165.10 L130.93,165.07 L131.02,165.01 L131.12,164.97 L131.22,164.90 L131.32,164.78 L131.41,164.79 L131.51,164.98 L131.61,165.02 L131.71,165.05 L131.80,165.20 L131.90,165.19 L132.00,165.12 L132.10,165.00 L132.19,164.94 L132.29,164.86 L132.39,164.87 L132.49,164.91 L132.58,165.09 L132.68,165.13 L132.78,165.24 L132.87,165.23 L132.97,165.11 L133.07,165.05 L133.17,165.02 L133.26,164.95 L133.36,165.03 L133.46,165.10 L133.56,165.09 L133.65,165.09 L133.75,165.04 L133.85,164.92 L133.95,164.95 L134.04,164.91 L134.14,164.89 L134.24,164.91 L134.34,164.96 L134.43,164.88 L134.53,164.88 L134.63,164.94 L134.73,164.98 L134.82,164.98 L134.92,164.95 L135.02,164.99 L135.12,164.99 L135.21,164.96 L135.31,164.94 L135.41,165.01 L135.51,164.97 L135.60,164.99 L135.70,165.00 L135.80,164.89 L135.90,164.88 L135.99,164.93 L136.09,164.90 L136.19,164.82 L136.29,164.86 L136.38,164.85 L136.48,164.82 L136.58,164.78 L136.68,164.86 L136.77,164.94 L136.87,164.89 L136.97,164.86 L137.07,164.87 L137.16,164.82 L137.26,164.82 L137.36,164.85 L137.46,164.84 L137.55,164.74 L137.65,164.72 L137.75,164.64 L137.85,164.64 L137.94,164.65 L138.04,164.60 L138.14,164.45 L138.24,164.39 L138.33,164.37 L138.43,164.22 L138.53,164.17 L138.63,164.10 L138.72,163.96 L138.82,163.48 L138.92,163.06 L139.02,162.29 L139.11,161.24 L139.21,159.76 L139.31,158.04 L139.41,156.08 L139.50,154.41 L139.60,153.44 L139.70,153.69 L139.80,155.11 L139.89,156.96 L139.99,158.88 L140.09,160.42 L140.19,161.73 L140.28,162.66 L140.38,163.36 L140.48,163.71 L140.58,164.01 L140.67,164.19 L140.77,164.31 L140.87,164.26 L140.97,164.25 L141.06,164.37 L141.16,164.47 L141.26,164.66 L141.36,164.77 L141.45,164.95 L141.55,164.93 L141.65,164.98 L141.75,164.84 L141.84,164.84 L141.94,164.85 L142.04,164.87 L142.14,164.76 L142.23,164.79 L142.33,164.80 L142.43,164.71 L142.53,164.70 L142.62,164.75 L142.72,164.78 L142.82,164.85 L142.92,164.85 L143.01,164.94 L143.11,164.93 L143.21,164.99 L143.31,164.89 L143.40,164.92 L143.50,164.91 L143.60,164.89 L143.70,164.85 L143.79,164.87 L143.89,164.87 L143.99,164.83 L144.09,164.85 L144.18,164.92 L144.28,164.93 L144.38,164.90 L144.48,164.94 L144.57,164.91 L144.67,164.78 L144.77,164.75 L144.86,164.73 L144.96,164.64 L145.06,164.68 L145.16,164.63 L145.25,164.66 L145.35,164.75 L145.45,164.72 L145.55,164.73 L145.64,164.78 L145.74,164.82 L145.84,164.73 L145.94,164.73 L146.03,164.72 L146.13,164.73 L146.23,164.65 L146.33,164.70 L146.42,164.73 L146.52,164.71 L146.62,164.76 L146.72,164.83 L146.81,164.80 L146.91,164.79 L147.01,164.73 L147.11,164.66 L147.20,164.56 L147.30,164.56 L147.40,164.46 L147.50,164.48 L147.59,164.38 L147.69,164.29 L147.79,164.10 L147.89,163.85 L147.98,163.50 L148.08,163.28 L148.18,163.00 L148.28,162.90 L148.37,163.01 L148.47,163.31 L148.57,163.55 L148.67,163.87 L148.76,164.11 L148.86,164.33 L148.96,164.36 L149.06,164.38 L149.15,164.41 L149.25,164.44 L149.35,164.47 L149.45,164.54 L149.54,164.53 L149.64,164.59 L149.74,164.53 L149.84,164.60 L149.93,164.62 L150.03,164.75 L150.13,164.72 L150.23,164.69 L150.32,164.63 L150.42,164.59 L150.52,164.52 L150.62,164.44 L150.71,164.40 L150.81,164.20 L150.91,163.98 L151.01,163.67 L151.10,163.24 L151.20,162.60 L151.30,161.86 L151.40,160.73 L151.49,159.39 L151.59,157.91 L151.69,156.55 L151.79,155.76 L151.88,156.04 L151.98,157.14 L152.08,158.57 L152.18,159.97 L152.27,161.19 L152.37,162.12 L152.47,162.77 L152.57,163.21 L152.66,163.64 L152.76,163.73 L152.86,163.88 L152.96,163.96 L153.05,164.02 L153.15,164.10 L153.25,164.30 L153.35,164.37 L153.44,164.39 L153.54,164.36 L153.64,164.34 L153.74,164.16 L153.83,164.03 L153.93,163.87 L154.03,163.82 L154.13,163.64 L154.22,163.51 L154.32,163.05 L154.42,162.53 L154.52,161.75 L154.61,160.77 L154.71,159.79 L154.81,159.24 L154.91,159.22 L155.00,159.79 L155.10,160.62 L155.20,161.63 L155.30,162.51 L155.39,163.21 L155.49,163.71 L155.59,164.15 L155.69,164.27 L155.78,164.39 L155.88,164.34 L155.98,164.38 L156.08,164.34 L156.17,164.44 L156.27,164.43 L156.37,164.51 L156.47,164.53 L156.56,164.55 L156.66,164.58 L156.76,164.65 L156.86,164.74 L156.95,164.70 L157.05,164.76 L157.15,164.79 L157.24,164.73 L157.34,164.69 L157.44,164.80 L157.54,164.82 L157.63,164.80 L157.73,164.90 L157.83,164.91 L157.93,164.91 L158.02,164.91 L158.12,164.85 L158.22,164.73 L158.32,164.66 L158.41,164.63 L158.51,164.55 L158.61,164.59 L158.71,164.59 L158.80,164.64 L158.90,164.60 L159.00,164.53 L159.10,164.47 L159.19,164.54 L159.29,164.60 L159.39,164.64 L159.49,164.80 L159.58,164.78 L159.68,164.79 L159.78,164.71 L159.88,164.68 L159.97,164.65 L160.07,164.72 L160.17,164.69 L160.27,164.72 L160.36,164.73 L160.46,164.68 L160.56,164.74 L160.66,164.76 L160.75,164.78 L160.85,164.81 L160.95,164.82 L161.05,164.87 L161.14,164.93 L161.24,164.92 L161.34,164.81 L161.44,164.78 L161.53,164.71 L161.63,164.58 L161.73,164.55 L161.83,164.65 L161.92,164.67 L162.02,164.55 L162.12,164.56 L162.22,164.57 L162.31,164.55 L162.41,164.45 L162.51,164.48 L162.61,164.42 L162.70,164.20 L162.80,164.04 L162.90,163.95 L163.00,163.80 L163.09,163.82 L163.19,163.92 L163.29,164.03 L163.39,164.13 L163.48,164.25 L163.58,164.37 L163.68,164.46 L163.78,164.45 L163.87,164.53 L163.97,164.61 L164.07,164.61 L164.17,164.59 L164.26,164.66 L164.36,164.68 L164.46,164.72 L164.56,164.71 L164.65,164.84 L164.75,164.80 L164.85,164.82 L164.95,164.82 L165.04,164.78 L165.14,164.70 L165.24,164.72 L165.34,164.73 L165.43,164.63 L165.53,164.67 L165.63,164.67 L165.73,164.66 L165.82,164.56 L165.92,164.60 L166.02,164.54 L166.12,164.53 L166.21,164.57 L166.31,164.59 L166.41,164.57 L166.51,164.57 L166.60,164.59 L166.70,164.59 L166.80,164.62 L166.90,164.59 L166.99,164.73 L167.09,164.81 L167.19,164.81 L167.29,164.79 L167.38,164.80 L167.48,164.74 L167.58,164.75 L167.68,164.84 L167.77,164.87 L167.87,164.92 L167.97,164.89 L168.07,164.78 L168.16,164.72 L168.26,164.65 L168.36,164.64 L168.46,164.66 L168.55,164.70 L168.65,164.75 L168.75,164.70 L168.85,164.69 L168.94,164.63 L169.04,164.67 L169.14,164.66 L169.23,164.81 L169.33,164.85 L169.43,164.99 L169.53,165.08 L169.62,164.97 L169.72,164.95 L169.82,164.89 L169.92,164.75 L170.01,164.65 L170.11,164.69 L170.21,164.60 L170.31,164.59 L170.40,164.64 L170.50,164.66 L170.60,164.70 L170.70,164.71 L170.79,164.74 L170.89,164.70 L170.99,164.62 L171.09,164.56 L171.18,164.56 L171.28,164.53 L171.38,164.52 L171.48,164.64 L171.57,164.70 L171.67,164.71 L171.77,164.64 L171.87,164.77 L171.96,164.69 L172.06,164.63 L172.16,164.58 L172.26,164.67 L172.35,164.68 L172.45,164.63 L172.55,164.61 L172.65,164.63 L172.74,164.57 L172.84,164.43 L172.94,164.45 L173.04,164.42 L173.13,164.34 L173.23,164.27 L173.33,164.20 L173.43,164.01 L173.52,163.77 L173.62,163.57 L173.72,163.26 L173.82,163.04 L173.91,163.03 L174.01,163.18 L174.11,163.41 L174.21,163.63 L174.30,163.81 L174.40,164.01 L174.50,164.20 L174.60,164.39 L174.69,164.51 L174.79,164.60 L174.89,164.58 L174.99,164.65 L175.08,164.50 L175.18,164.49 L175.28,164.54 L175.38,164.58 L175.47,164.55 L175.57,164.59 L175.67,164.63 L175.77,164.62 L175.86,164.61 L175.96,164.65 L176.06,164.72 L176.16,164.82 L176.25,164.77 L176.35,164.76 L176.45,164.70 L176.55,164.69 L176.64,164.66 L176.74,164.80 L176.84,164.84 L176.94,164.87 L177.03,164.87 L177.13,164.78 L177.23,164.64 L177.33,164.65 L177.42,164.67 L177.52,164.60 L177.62,164.75 L177.72,164.80 L177.81,164.72 L177.91,164.67 L178.01,164.73 L178.11,164.60 L178.20,164.61 L178.30,164.69 L178.40,164.68 L178.50,164.66 L178.59,164.67 L178.69,164.58 L178.79,164.48 L178.89,164.60 L178.98,164.58 L179.08,164.58 L179.18,164.59 L179.28,164.67 L179.37,164.57 L179.47,164.57 L179.57,164.63 L179.67,164.75 L179.76,164.70 L179.86,164.65 L179.96,164.72 L180.06,164.64 L180.15,164.60 L180.25,164.61 L180.35,164.70 L180.45,164.65 L180.54,164.73 L180.64,164.71 L180.74,164.72 L180.84,164.63 L180.93,164.67 L181.03,164.57 L181.13,164.58 L181.23,164.67 L181.32,164.71 L181.42,164.58 L181.52,164.67 L181.61,164.70 L181.71,164.65 L181.81,164.62 L181.91,164.68 L182.00,164.64 L182.10,164.52 L182.20,164.39 L182.30,164.40 L182.39,164.40 L182.49,164.42 L182.59,164.45 L182.69,164.48 L182.78,164.47 L182.88,164.53 L182.98,164.48 L183.08,164.43 L183.17,164.47 L183.27,164.39 L183.37,164.29 L183.47,164.40 L183.56,164.48 L183.66,164.54 L183.76,164.64 L183.86,164.72 L183.95,164.62 L184.05,164.55 L184.15,164.54 L184.25,164.42 L184.34,164.29 L184.44,164.14 L184.54,164.04 L184.64,163.90 L184.73,163.82 L184.83,163.75 L184.93,163.82 L185.03,163.94 L185.12,164.03 L185.22,164.21 L185.32,164.38 L185.42,164.54 L185.51,164.59 L185.61,164.57 L185.71,164.51 L185.81,164.47 L185.90,164.44 L186.00,164.43 L186.10,164.45 L186.20,164.54 L186.29,164.52 L186.39,164.52 L186.49,164.55 L186.59,164.50 L186.68,164.42 L186.78,164.44 L186.88,164.34 L186.98,164.28 L187.07,164.30 L187.17,164.32 L187.27,164.44 L187.37,164.65 L187.46,164.75 L187.56,164.68 L187.66,164.70 L187.76,164.63 L187.85,164.49 L187.95,164.39 L188.05,164.48 L188.15,164.44 L188.24,164.40 L188.34,164.45 L188.44,164.53 L188.54,164.65 L188.63,164.68 L188.73,164.70 L188.83,164.67 L188.93,164.60 L189.02,164.56 L189.12,164.61 L189.22,164.58 L189.32,164.67 L189.41,164.70 L189.51,164.64 L189.61,164.56 L189.71,164.63 L189.80,164.53 L189.90,164.60 L190.00,164.56 L190.10,164.59 L190.19,164.57 L190.29,164.59 L190.39,164.47 L190.49,164.56 L190.58,164.57 L190.68,164.60 L190.78,164.57 L190.88,164.59 L190.97,164.59 L191.07,164.59 L191.17,164.58 L191.27,164.63 L191.36,164.61 L191.46,164.59 L191.56,164.58 L191.66,164.61 L191.75,164.53 L191.85,164.63 L191.95,164.60 L192.05,164.61 L192.14,164.49 L192.24,164.58 L192.34,164.54 L192.44,164.61 L192.53,164.53 L192.63,164.66 L192.73,164.58 L192.83,164.50 L192.92,164.35 L193.02,164.44 L193.12,164.39 L193.22,164.46 L193.31,164.46 L193.41,164.59 L193.51,164.54 L193.60,164.50"/>
<path d="M35.20,209.07 L35.30,209.07 L35.39,209.06 L35.49,209.12 L35.59,209.03 L35.69,209.15 L35.78,209.10 L35.88,209.13 L35.98,209.14 L36.08,209.21 L36.17,209.10 L36.27,209.12 L36.37,209.11 L36.47,209.15 L36.56,209.02 L36.66,209.06 L36.76,209.05 L36.86,209.05 L36.95,208.95 L37.05,208.97 L37.15,208.91 L37.25,208.86 L37.34,208.76 L37.44,208.91 L37.54,209.00 L37.64,209.11 L37.73,209.15 L37.83,209.21 L37.93,209.17 L38.03,209.06 L38.12,209.00 L38.22,208.95 L38.32,208.99 L38.42,208.89 L38.51,208.91 L38.61,208.93 L38.71,208.99 L38.81,208.96 L38.90,209.02 L39.00,209.06 L39.10,209.13 L39.20,209.11 L39.29,209.11 L39.39,209.15 L39.49,209.13 L39.59,209.13 L39.68,209.22 L39.78,209.17 L39.88,209.08 L39.98,209.15 L40.07,208.99 L40.17,208.95 L40.27,209.01 L40.37,209.03 L40.46,208.97 L40.56,209.01 L40.66,209.04 L40.76,209.05 L40.85,209.02 L40.95,209.00 L41.05,209.01 L41.15,208.93 L41.24,208.86 L41.34,208.94 L41.44,209.00 L41.54,208.91 L41.63,208.96 L41.73,208.97 L41.83,208.98 L41.93,208.83 L42.02,208.96 L42.12,208.92 L42.22,208.93 L42.32,208.94 L42.41,209.09 L42.51,209.00 L42.61,209.06 L42.71,209.04 L42.80,208.98 L42.90,208.91 L43.00,208.86 L43.10,208.88 L43.19,208.90 L43.29,208.92 L43.39,209.02 L43.49,209.13 L43.58,209.07 L43.68,209.06 L43.78,209.01 L43.88,209.07 L43.97,209.09 L44.07,209.20 L44.17,209.21 L44.27,209.19 L44.36,209.07 L44.46,209.07 L44.56,208.95 L44.66,208.93 L44.75,208.94 L44.85,208.98 L44.95,208.97 L45.05,208.93 L45.14,208.97 L45.24,208.99 L45.34,208.96 L45.44,208.91 L45.53,208.94 L45.63,208.96 L45.73,208.98 L45.83,209.00 L45.92,209.02 L46.02,209.01 L46.12,209.07 L46.22,208.98 L46.31,209.01 L46.41,209.01 L46.51,209.09 L46.61,209.05 L46.70,209.12 L46.80,209.05 L46.90,209.04 L47.00,208.95 L47.09,208.94 L47.19,208.86 L47.29,208.96 L47.38,208.96 L47.48,208.98 L47.58,208.99 L47.68,209.06 L47.77,209.03 L47.87,209.02 L47.97,209.05 L48.07,209.00 L48.16,208.98 L48.26,208.92 L48.36,208.93 L48.46,208.95 L48.55,208.95 L48.65,208.93 L48.75,208.96 L48.85,209.02 L48.94,209.00 L49.04,208.99 L49.14,209.10 L49.24,209.07 L49.33,209.03 L49.43,208.97 L49.53,209.08 L49.63,208.98 L49.72,209.05 L49.82,209.00 L49.92,208.96 L50.02,208.90 L50.11,208.83 L50.21,208.78 L50.31,208.77 L50.41,208.74 L50.50,208.68 L50.60,208.75 L50.70,208.86 L50.80,208.93 L50.89,209.01 L50.99,209.09 L51.09,209.16 L51.19,209.03 L51.28,209.06 L51.38,209.13 L51.48,209.06 L51.58,208.92 L51.67,208.98 L51.77,208.91 L51.87,208.83 L51.97,208.89 L52.06,209.02 L52.16,208.97 L52.26,209.02 L52.36,209.08 L52.45,208.96 L52.55,209.01 L52.65,208.94 L52.75,208.82 L52.84,208.81 L52.94,208.84 L53.04,208.74 L53.14,208.87 L53.23,208.96 L53.33,208.97 L53.43,208.95 L53.53,209.01 L53.62,209.03 L53.72,209.02 L53.82,209.02 L53.92,208.99 L54.01,208.96 L54.11,208.93 L54.21,208.95 L54.31,208.95 L54.40,209.15 L54.50,209.12 L54.60,209.12 L54.70,209.10 L54.79,209.01 L54.89,208.86 L54.99,208.83 L55.09,208.83 L55.18,208.82 L55.28,208.90 L55.38,208.96 L55.48,209.01 L55.57,208.99 L55.67,208.93 L55.77,208.94 L55.87,208.86 L55.96,208.83 L56.06,208.80 L56.16,208.83 L56.26,208.81 L56.35,208.88 L56.45,208.85 L56.55,208.86 L56.65,208.68 L56.74,208.72 L56.84,208.76 L56.94,208.74 L57.04,208.75 L57.13,208.98 L57.23,208.97 L57.33,208.92 L57.43,209.01 L57.52,208.95 L57.62,208.95 L57.72,208.90 L57.82,208.85 L57.91,208.80 L58.01,208.86 L58.11,208.87 L58.21,208.94 L58.30,209.04 L58.40,209.01 L58.50,209.01 L58.60,208.98 L58.69,208.89 L58.79,208.80 L58.89,208.78 L58.99,208.72 L59.08,208.71 L59.18,208.76 L59.28,208.75 L59.38,208.80 L59.47,208.81 L59.57,208.83 L59.67,208.75 L59.76,208.72 L59.86,208.71 L59.96,208.67 L60.06,208.61 L60.15,208.62 L60.25,208.59 L60.35,208.58 L60.45,208.58 L60.54,208.63 L60.64,208.56 L60.74,208.61 L60.84,208.58 L60.93,208.59 L61.03,208.47 L61.13,208.51 L61.23,208.50 L61.32,208.45 L61.42,208.38 L61.52,208.36 L61.62,208.25 L61.71,208.08 L61.81,208.05 L61.91,207.96 L62.01,207.82 L62.10,207.81 L62.20,207.78 L62.30,207.69 L62.40,207.45 L62.49,207.24 L62.59,206.87 L62.69,206.35 L62.79,205.57 L62.88,204.75 L62.98,203.43 L63.08,201.63 L63.18,199.14 L63.27,196.24 L63.37,192.63 L63.47,188.73 L63.57,185.06 L63.66,182.94 L63.76,182.85 L63.86,185.25 L63.96,188.87 L64.05,192.88 L64.15,196.41 L64.25,199.43 L64.35,201.66 L64.44,203.41 L64.54,204.75 L64.64,205.68 L64.74,206.30 L64.83,206.65 L64.93,206.98 L65.03,207.20 L65.13,207.27 L65.22,207.47 L65.32,207.68 L65.42,207.84 L65.52,208.02 L65.61,208.17 L65.71,208.21 L65.81,208.23 L65.91,208.26 L66.00,208.10 L66.10,208.09 L66.20,208.07 L66.30,208.13 L66.39,208.15 L66.49,208.19 L66.59,208.34 L66.69,208.37 L66.78,208.34 L66.88,208.39 L66.98,208.45 L67.08,208.29 L67.17,208.29 L67.27,208.23 L67.37,208.11 L67.47,208.00 L67.56,208.06 L67.66,207.96 L67.76,207.95 L67.86,207.95 L67.95,208.03 L68.05,208.05 L68.15,208.09 L68.25,208.14 L68.34,208.03 L68.44,207.84 L68.54,207.65 L68.64,207.49 L68.73,207.29 L68.83,207.11 L68.93,206.88 L69.03,206.64 L69.12,206.24 L69.22,205.63 L69.32,204.73 L69.42,203.51 L69.51,201.77 L69.61,199.39 L69.71,196.48 L69.81,193.14 L69.90,189.65 L70.00,186.90 L70.10,185.87 L70.20,186.95 L70.29,189.76 L70.39,193.21 L70.49,196.49 L70.59,199.37 L70.68,201.66 L70.78,203.33 L70.88,204.63 L70.98,205.46 L71.07,206.17 L71.17,206.57 L71.27,206.88 L71.37,207.06 L71.46,207.25 L71.56,207.29 L71.66,207.47 L71.75,207.61 L71.85,207.73 L71.95,207.81 L72.05,207.83 L72.14,207.76 L72.24,207.65 L72.34,207.53 L72.44,207.47 L72.53,207.47 L72.63,207.40 L72.73,207.34 L72.83,207.16 L72.92,206.96 L73.02,206.76 L73.12,206.55 L73.22,206.20 L73.31,205.96 L73.41,205.56 L73.51,204.97 L73.61,204.23 L73.70,203.23 L73.80,201.79 L73.90,199.76 L74.00,196.83 L74.09,192.82 L74.19,187.78 L74.29,181.82 L74.39,175.37 L74.48,169.82 L74.58,166.94 L74.68,167.95 L74.78,172.32 L74.87,178.61 L74.97,184.92 L75.07,190.62 L75.17,195.17 L75.26,198.55 L75.36,200.96 L75.46,202.74 L75.56,203.93 L75.65,204.78 L75.75,205.56 L75.85,206.06 L75.95,206.43 L76.04,206.71 L76.14,207.02 L76.24,207.28 L76.34,207.47 L76.43,207.67 L76.53,207.81 L76.63,207.84 L76.73,207.91 L76.82,207.93 L76.92,208.04 L77.02,207.96 L77.12,207.98 L77.21,207.91 L77.31,208.04 L77.41,208.01 L77.51,208.15 L77.60,208.28 L77.70,208.37 L77.80,208.30 L77.90,208.33 L77.99,208.27 L78.09,208.20 L78.19,208.20 L78.29,208.24 L78.38,208.26 L78.48,208.42 L78.58,208.47 L78.68,208.52 L78.77,208.49 L78.87,208.46 L78.97,208.53 L79.07,208.56 L79.16,208.58 L79.26,208.58 L79.36,208.64 L79.46,208.52 L79.55,208.50 L79.65,208.51 L79.75,208.59 L79.85,208.53 L79.94,208.58 L80.04,208.58 L80.14,208.55 L80.24,208.46 L80.33,208.43 L80.43,208.40 L80.53,208.45 L80.63,208.41 L80.72,208.53 L80.82,208.63 L80.92,208.67 L81.02,208.58 L81.11,208.50 L81.21,208.47 L81.31,208.54 L81.41,208.58 L81.50,208.64 L81.60,208.80 L81.70,208.86 L81.80,208.78 L81.89,208.73 L81.99,208.70 L82.09,208.72 L82.19,208.69 L82.28,208.76 L82.38,208.73 L82.48,208.88 L82.58,208.84 L82.67,208.79 L82.77,208.77 L82.87,208.77 L82.97,208.71 L83.06,208.68 L83.16,208.75 L83.26,208.69 L83.36,208.75 L83.45,208.74 L83.55,208.71 L83.65,208.73 L83.75,208.72 L83.84,208.63 L83.94,208.61 L84.04,208.74 L84.13,208.62 L84.23,208.72 L84.33,208.76 L84.43,208.75 L84.52,208.57 L84.62,208.65 L84.72,208.63 L84.82,208.60 L84.91,208.54 L85.01,208.67 L85.11,208.64 L85.21,208.60 L85.30,208.62 L85.40,208.71 L85.50,208.65 L85.60,208.65 L85.69,208.53 L85.79,208.63 L85.89,208.54 L85.99,208.55 L86.08,208.63 L86.18,208.81 L86.28,208.66 L86.38,208.82 L86.47,208.73 L86.57,208.75 L86.67,208.66 L86.77,208.77 L86.86,208.76 L86.96,208.88 L87.06,208.72 L87.16,208.73 L87.25,208.67 L87.35,208.55 L87.45,208.46 L87.55,208.60 L87.64,208.59 L87.74,208.60 L87.84,208.66 L87.94,208.82 L88.03,208.73 L88.13,208.72 L88.23,208.74 L88.33,208.55 L88.42,208.50 L88.52,208.56 L88.62,208.59 L88.72,208.60 L88.81,208.78 L88.91,208.64 L89.01,208.68 L89.11,208.80 L89.20,208.79 L89.30,208.83 L89.40,208.93 L89.50,208.92 L89.59,208.82 L89.69,208.68 L89.79,208.64 L89.89,208.51 L89.98,208.48 L90.08,208.51 L90.18,208.72 L90.28,208.71 L90.37,208.79 L90.47,208.66 L90.57,208.72 L90.67,208.65 L90.76,208.68 L90.86,208.72 L90.96,208.85 L91.06,208.81 L91.15,208.78 L91.25,208.81 L91.35,208.85 L91.45,208.83 L91.54,208.73 L91.64,208.76 L91.74,208.80 L91.84,208.78 L91.93,208.79 L92.03,208.85 L92.13,208.76 L92.23,208.72 L92.32,208.71 L92.42,208.74 L92.52,208.65 L92.62,208.69 L92.71,208.65 L92.81,208.68 L92.91,208.61 L93.01,208.75 L93.10,208.71 L93.20,208.65 L93.30,208.58 L93.40,208.61 L93.49,208.54 L93.59,208.55 L93.69,208.61 L93.79,208.59 L93.88,208.67 L93.98,208.61 L94.08,208.65 L94.18,208.58 L94.27,208.61 L94.37,208.56 L94.47,208.63 L94.57,208.66 L94.66,208.67 L94.76,208.76 L94.86,208.80 L94.96,208.75 L95.05,208.70 L95.15,208.79 L95.25,208.69 L95.35,208.68 L95.44,208.72 L95.54,208.80 L95.64,208.72 L95.74,208.75 L95.83,208.67 L95.93,208.78 L96.03,208.77 L96.12,208.87 L96.22,208.89 L96.32,208.91 L96.42,208.89 L96.51,208.86 L96.61,208.79 L96.71,208.75 L96.81,208.75 L96.90,208.66 L97.00,208.57 L97.10,208.64 L97.20,208.60 L97.29,208.66 L97.39,208.67 L97.49,208.76 L97.59,208.67 L97.68,208.74 L97.78,208.61 L97.88,208.68 L97.98,208.59 L98.07,208.57 L98.17,208.50 L98.27,208.58 L98.37,208.43 L98.46,208.46 L98.56,208.45 L98.66,208.50 L98.76,208.43 L98.85,208.43 L98.95,208.44 L99.05,208.56 L99.15,208.55 L99.24,208.54 L99.34,208.64 L99.44,208.64 L99.54,208.61 L99.63,208.59 L99.73,208.66 L99.83,208.57 L99.93,208.48 L100.02,208.30 L100.12,208.24 L100.22,208.11 L100.32,208.13 L100.41,208.06 L100.51,208.21 L100.61,208.29 L100.71,208.21 L100.80,208.20 L100.90,208.28 L101.00,208.13 L101.10,207.93 L101.19,207.81 L101.29,207.54 L101.39,207.21 L101.49,206.77 L101.58,206.19 L101.68,205.46 L101.78,204.43 L101.88,203.22 L101.97,201.78 L102.07,200.54 L102.17,199.73 L102.27,199.78 L102.36,200.62 L102.46,201.88 L102.56,203.29 L102.66,204.53 L102.75,205.54 L102.85,206.18 L102.95,206.84 L103.05,207.14 L103.14,207.40 L103.24,207.62 L103.34,207.84 L103.44,207.81 L103.53,208.03 L103.63,208.15 L103.73,208.24 L103.83,208.25 L103.92,208.42 L104.02,208.35 L104.12,208.40 L104.22,208.44 L104.31,208.38 L104.41,208.52 L104.51,208.60 L104.61,208.65 L104.70,208.57 L104.80,208.71 L104.90,208.55 L105.00,208.58 L105.09,208.49 L105.19,208.59 L105.29,208.56 L105.39,208.58 L105.48,208.56 L105.58,208.52 L105.68,208.42 L105.78,208.29 L105.87,208.37 L105.97,208.36 L106.07,208.42 L106.17,208.44 L106.26,208.50 L106.36,208.34 L106.46,208.29 L106.56,208.33 L106.65,208.40 L106.75,208.52 L106.85,208.63 L106.95,208.78 L107.04,208.74 L107.14,208.78 L107.24,208.75 L107.34,208.75 L107.43,208.62 L107.53,208.61 L107.63,208.55 L107.73,208.51 L107.82,208.54 L107.92,208.54 L108.02,208.54 L108.12,208.50 L108.21,208.54 L108.31,208.50 L108.41,208.58 L108.50,208.61 L108.60,208.63 L108.70,208.58 L108.80,208.65 L108.89,208.63 L108.99,208.55 L109.09,208.57 L109.19,208.55 L109.28,208.44 L109.38,208.49 L109.48,208.57 L109.58,208.49 L109.67,208.49 L109.77,208.50 L109.87,208.44 L109.97,208.53 L110.06,208.60 L110.16,208.74 L110.26,208.77 L110.36,208.78 L110.45,208.67 L110.55,208.64 L110.65,208.55 L110.75,208.60 L110.84,208.62 L110.94,208.56 L111.04,208.49 L111.14,208.55 L111.23,208.46 L111.33,208.39 L111.43,208.40 L111.53,208.51 L111.62,208.40 L111.72,208.33 L111.82,208.37 L111.92,208.44 L112.01,208.50 L112.11,208.52 L112.21,208.54 L112.31,208.56 L112.40,208.52 L112.50,208.46 L112.60,208.39 L112.70,208.50 L112.79,208.45 L112.89,208.48 L112.99,208.43 L113.09,208.51 L113.18,208.40 L113.28,208.45 L113.38,208.45 L113.48,208.51 L113.57,208.58 L113.67,208.60 L113.77,208.59 L113.87,208.64 L113.96,208.60 L114.06,208.57 L114.16,208.71 L114.26,208.72 L114.35,208.64 L114.45,208.69 L114.55,208.69 L114.65,208.67 L114.74,208.71 L114.84,208.61 L114.94,208.65 L115.04,208.59 L115.13,208.51 L115.23,208.45 L115.33,208.64 L115.43,208.52 L115.52,208.58 L115.62,208.50 L115.72,208.52 L115.82,208.48 L115.91,208.47 L116.01,208.45 L116.11,208.54 L116.21,208.48 L116.30,208.46 L116.40,208.58 L116.50,208.57 L116.60,208.53 L116.69,208.58 L116.79,208.55 L116.89,208.42 L116.99,208.36 L117.08,208.41 L117.18,208.30 L117.28,208.30 L117.38,208.35 L117.47,208.44 L117.57,208.41 L117.67,208.46 L117.77,208.44 L117.86,208.53 L117.96,208.47 L118.06,208.50 L118.16,208.53 L118.25,208.59 L118.35,208.50 L118.45,208.55 L118.55,208.50 L118.64,208.51 L118.74,208.46 L118.84,208.46 L118.94,208.39 L119.03,208.35 L119.13,208.36 L119.23,208.34 L119.33,208.38 L119.42,208.41 L119.52,208.55 L119.62,208.56 L119.72,208.49 L119.81,208.45 L119.91,208.47 L120.01,208.42 L120.11,208.44 L120.20,208.48 L120.30,208.50 L120.40,208.51 L120.49,208.40 L120.59,208.30 L120.69,208.32 L120.79,208.32 L120.88,208.22 L120.98,208.20 L121.08,208.24 L121.18,208.23 L121.27,208.16 L121.37,208.15 L121.47,208.20 L121.57,208.18 L121.66,208.20 L121.76,208.24 L121.86,208.27 L121.96,208.28 L122.05,208.29 L122.15,208.30 L122.25,208.26 L122.35,208.28 L122.44,208.26 L122.54,208.16 L122.64,208.03 L122.74,207.91 L122.83,207.93 L122.93,207.80 L123.03,207.84 L123.13,207.77 L123.22,207.72 L123.32,207.45 L123.42,207.35 L123.52,206.96 L123.61,206.63 L123.71,205.96 L123.81,205.19 L123.91,203.91 L124.00,202.55 L124.10,200.83 L124.20,199.23 L124.30,197.82 L124.39,197.41 L124.49,197.92 L124.59,199.28 L124.69,200.95 L124.78,202.56 L124.88,203.99 L124.98,205.10 L125.08,205.94 L125.17,206.56 L125.27,207.03 L125.37,207.29 L125.47,207.57 L125.56,207.68 L125.66,207.78 L125.76,207.88 L125.86,207.85 L125.95,207.85 L126.05,208.01 L126.15,207.99 L126.25,208.08 L126.34,208.25 L126.44,208.31 L126.54,208.23 L126.64,208.39 L126.73,208.39 L126.83,208.42 L126.93,208.38 L127.03,208.41 L127.12,208.35 L127.22,208.33 L127.32,208.34 L127.42,208.44 L127.51,208.42 L127.61,208.45 L127.71,208.45 L127.81,208.44 L127.90,208.45 L128.00,208.57 L128.10,208.52 L128.20,208.43 L128.29,208.41 L128.39,208.27 L128.49,208.22 L128.59,208.24 L128.68,208.32 L128.78,208.36 L128.88,208.44 L128.98,208.46 L129.07,208.43 L129.17,208.56 L129.27,208.46 L129.37,208.41 L129.46,208.38 L129.56,208.39 L129.66,208.29 L129.76,208.36 L129.85,208.39 L129.95,208.47 L130.05,208.53 L130.15,208.54 L130.24,208.42 L130.34,208.46 L130.44,208.30 L130.54,208.29 L130.63,208.43 L130.73,208.54 L130.83,208.52 L130.93,208.52 L131.02,208.53 L131.12,208.35 L131.22,208.38 L131.32,208.36 L131.41,208.43 L131.51,208.43 L131.61,208.40 L131.71,208.34 L131.80,208.39 L131.90,208.37 L132.00,208.36 L132.10,208.38 L132.19,208.42 L132.29,208.42 L132.39,208.41 L132.49,208.28 L132.58,208.26 L132.68,208.20 L132.78,208.18 L132.87,208.13 L132.97,208.21 L133.07,208.23 L133.17,208.29 L133.26,208.33 L133.36,208.41 L133.46,208.39 L133.56,208.46 L133.65,208.45 L133.75,208.39 L133.85,208.41 L133.95,208.49 L134.04,208.52 L134.14,208.53 L134.24,208.51 L134.34,208.48 L134.43,208.45 L134.53,208.28 L134.63,208.32 L134.73,208.35 L134.82,208.38 L134.92,208.35 L135.02,208.42 L135.12,208.39 L135.21,208.41 L135.31,208.48 L135.41,208.45 L135.51,208.49 L135.60,208.45 L135.70,208.36 L135.80,208.28 L135.90,208.38 L135.99,208.35 L136.09,208.33 L136.19,208.29 L136.29,208.27 L136.38,208.23 L136.48,208.05 L136.58,208.00 L136.68,208.06 L136.77,208.11 L136.87,208.13 L136.97,208.28 L137.07,208.31 L137.16,208.34 L137.26,208.26 L137.36,208.19 L137.46,208.24 L137.55,208.15 L137.65,208.19 L137.75,208.13 L137.85,208.11 L137.94,208.11 L138.04,208.19 L138.14,207.99 L138.24,208.05 L138.33,207.97 L138.43,207.70 L138.53,207.58 L138.63,207.43 L138.72,207.18 L138.82,206.80 L138.92,206.37 L139.02,205.61 L139.11,204.73 L139.21,203.38 L139.31,202.03 L139.41,200.42 L139.50,199.11 L139.60,198.42 L139.70,198.69 L139.80,199.64 L139.89,201.17 L139.99,202.69 L140.09,203.89 L140.19,204.98 L140.28,205.89 L140.38,206.40 L140.48,206.76 L140.58,207.14 L140.67,207.41 L140.77,207.46 L140.87,207.69 L140.97,207.83 L141.06,207.92 L141.16,208.00 L141.26,207.99 L141.36,207.99 L141.45,207.96 L141.55,208.00 L141.65,207.89 L141.75,208.15 L141.84,208.22 L141.94,208.41 L142.04,208.39 L142.14,208.44 L142.23,208.28 L142.33,208.33 L142.43,208.21 L142.53,208.24 L142.62,208.27 L142.72,208.24 L142.82,208.21 L142.92,208.18 L143.01,208.13 L143.11,208.11 L143.21,208.21 L143.31,208.21 L143.40,208.28 L143.50,208.37 L143.60,208.45 L143.70,208.45 L143.79,208.40 L143.89,208.41 L143.99,208.33 L144.09,208.32 L144.18,208.19 L144.28,208.20 L144.38,208.18 L144.48,208.27 L144.57,208.20 L144.67,208.23 L144.77,208.25 L144.86,208.21 L144.96,208.06 L145.06,208.15 L145.16,208.16 L145.25,208.16 L145.35,208.20 L145.45,208.33 L145.55,208.29 L145.64,208.33 L145.74,208.28 L145.84,208.30 L145.94,208.26 L146.03,208.15 L146.13,208.14 L146.23,208.14 L146.33,208.09 L146.42,208.12 L146.52,208.21 L146.62,208.21 L146.72,208.30 L146.81,208.21 L146.91,208.17 L147.01,208.19 L147.11,208.17 L147.20,208.04 L147.30,208.06 L147.40,207.99 L147.50,207.82 L147.59,207.71 L147.69,207.61 L147.79,207.46 L147.89,207.27 L147.98,207.12 L148.08,206.88 L148.18,206.72 L148.28,206.70 L148.37,206.75 L148.47,206.93 L148.57,207.20 L148.67,207.43 L148.76,207.52 L148.86,207.69 L148.96,207.77 L149.06,207.81 L149.15,207.88 L149.25,207.98 L149.35,207.97 L149.45,207.97 L149.54,208.08 L149.64,208.09 L149.74,208.05 L149.84,208.10 L149.93,208.19 L150.03,208.07 L150.13,208.00 L150.23,207.96 L150.32,207.98 L150.42,207.85 L150.52,207.78 L150.62,207.73 L150.71,207.72 L150.81,207.45 L150.91,207.37 L151.01,207.05 L151.10,206.64 L151.20,206.17 L151.30,205.55 L151.40,204.64 L151.49,203.69 L151.59,202.69 L151.69,201.68 L151.79,201.20 L151.88,201.40 L151.98,202.21 L152.08,203.17 L152.18,204.24 L152.27,205.14 L152.37,205.85 L152.47,206.40 L152.57,206.76 L152.66,207.00 L152.76,207.19 L152.86,207.40 L152.96,207.44 L153.05,207.58 L153.15,207.66 L153.25,207.76 L153.35,207.75 L153.44,207.74 L153.54,207.71 L153.64,207.71 L153.74,207.63 L153.83,207.59 L153.93,207.56 L154.03,207.50 L154.13,207.36 L154.22,207.05 L154.32,206.69 L154.42,206.22 L154.52,205.69 L154.61,205.07 L154.71,204.55 L154.81,204.19 L154.91,204.23 L155.00,204.55 L155.10,205.19 L155.20,205.81 L155.30,206.37 L155.39,206.92 L155.49,207.25 L155.59,207.37 L155.69,207.50 L155.78,207.63 L155.88,207.61 L155.98,207.80 L156.08,207.78 L156.17,207.91 L156.27,207.92 L156.37,207.99 L156.47,207.97 L156.56,208.17 L156.66,208.16 L156.76,208.26 L156.86,208.24 L156.95,208.23 L157.05,208.14 L157.15,208.18 L157.24,208.14 L157.34,208.21 L157.44,208.16 L157.54,208.15 L157.63,208.09 L157.73,208.13 L157.83,208.12 L157.93,208.15 L158.02,208.13 L158.12,208.20 L158.22,208.22 L158.32,208.23 L158.41,208.33 L158.51,208.34 L158.61,208.34 L158.71,208.22 L158.80,208.33 L158.90,208.24 L159.00,208.36 L159.10,208.36 L159.19,208.35 L159.29,208.27 L159.39,208.19 L159.49,208.15 L159.58,208.11 L159.68,208.18 L159.78,208.12 L159.88,208.13 L159.97,208.24 L160.07,208.24 L160.17,208.19 L160.27,208.16 L160.36,208.18 L160.46,208.09 L160.56,208.13 L160.66,208.22 L160.75,208.24 L160.85,208.24 L160.95,208.26 L161.05,208.30 L161.14,208.26 L161.24,208.29 L161.34,208.31 L161.44,208.20 L161.53,208.19 L161.63,208.17 L161.73,208.15 L161.83,208.12 L161.92,208.23 L162.02,208.14 L162.12,208.13 L162.22,208.18 L162.31,208.09 L162.41,207.99 L162.51,207.96 L162.61,207.85 L162.70,207.60 L162.80,207.51 L162.90,207.28 L163.00,207.13 L163.09,207.17 L163.19,207.30 L163.29,207.54 L163.39,207.80 L163.48,207.97 L163.58,208.02 L163.68,208.07 L163.78,208.08 L163.87,208.08 L163.97,208.12 L164.07,208.14 L164.17,208.15 L164.26,208.13 L164.36,208.08 L164.46,208.13 L164.56,208.15 L164.65,208.20 L164.75,208.20 L164.85,208.13 L164.95,208.09 L165.04,208.04 L165.14,208.02 L165.24,208.04 L165.34,208.11 L165.43,208.16 L165.53,208.24 L165.63,208.24 L165.73,208.27 L165.82,208.25 L165.92,208.21 L166.02,208.17 L166.12,208.21 L166.21,208.15 L166.31,208.22 L166.41,208.15 L166.51,208.19 L166.60,208.19 L166.70,208.14 L166.80,208.15 L166.90,208.27 L166.99,208.25 L167.09,208.20 L167.19,208.20 L167.29,208.15 L167.38,208.05 L167.48,207.98 L167.58,208.03 L167.68,208.06 L167.77,208.10 L167.87,208.18 L167.97,208.24 L168.07,208.26 L168.16,208.30 L168.26,208.36 L168.36,208.31 L168.46,208.29 L168.55,208.32 L168.65,208.29 L168.75,208.24 L168.85,208.21 L168.94,208.18 L169.04,208.12 L169.14,208.14 L169.23,208.16 L169.33,208.13 L169.43,208.13 L169.53,208.01 L169.62,208.01 L169.72,207.94 L169.82,207.99 L169.92,208.00 L170.01,208.09 L170.11,208.11 L170.21,208.08 L170.31,208.14 L170.40,208.14 L170.50,208.01 L170.60,208.03 L170.70,208.11 L170.79,208.03 L170.89,208.14 L170.99,208.23 L171.09,208.24 L171.18,208.31 L171.28,208.32 L171.38,208.28 L171.48,208.26 L171.57,208.17 L171.67,208.05 L171.77,208.09 L171.87,208.07 L171.96,208.10 L172.06,208.22 L172.16,208.23 L172.26,208.15 L172.35,208.05 L172.45,208.05 L172.55,207.99 L172.65,207.95 L172.74,208.01 L172.84,208.02 L172.94,207.99 L173.04,207.98 L173.13,207.96 L173.23,207.79 L173.33,207.65 L173.43,207.43 L173.52,207.19 L173.62,206.92 L173.72,206.74 L173.82,206.65 L173.91,206.63 L174.01,206.75 L174.11,206.94 L174.21,207.13 L174.30,207.41 L174.40,207.68 L174.50,207.80 L174.60,207.99 L174.69,208.07 L174.79,207.99 L174.89,207.92 L174.99,207.91 L175.08,207.86 L175.18,207.92 L175.28,207.98 L175.38,208.08 L175.47,208.03 L175.57,208.14 L175.67,208.14 L175.77,208.20 L175.86,208.17 L175.96,208.21 L176.06,208.11 L176.16,208.19 L176.25,208.17 L176.35,208.21 L176.45,208.21 L176.55,208.30 L176.64,208.17 L176.74,208.10 L176.84,208.08 L176.94,208.22 L177.03,208.23 L177.13,208.22 L177.23,208.26 L177.33,208.32 L177.42,208.27 L177.52,208.22 L177.62,208.26 L177.72,208.34 L177.81,208.29 L177.91,208.18 L178.01,208.11 L178.11,208.15 L178.20,208.13 L178.30,208.10 L178.40,208.20 L178.50,208.19 L178.59,208.15 L178.69,208.17 L178.79,208.20 L178.89,208.17 L178.98,208.32 L179.08,208.27 L179.18,208.18 L179.28,208.19 L179.37,208.14 L179.47,208.06 L179.57,208.17 L179.67,208.13 L179.76,208.15 L179.86,208.12 L179.96,208.16 L180.06,208.16 L180.15,208.11 L180.25,208.08 L180.35,208.15 L180.45,208.02 L180.54,207.99 L180.64,208.13 L180.74,208.15 L180.84,208.12 L180.93,208.17 L181.03,208.23 L181.13,208.16 L181.23,208.17 L181.32,208.19 L181.42,208.23 L181.52,208.15 L181.61,208.17 L181.71,208.08 L181.81,208.10 L181.91,208.04 L182.00,208.12 L182.10,208.18 L182.20,208.20 L182.30,208.22 L182.39,208.27 L182.49,208.25 L182.59,208.11 L182.69,208.11 L182.78,208.04 L182.88,208.07 L182.98,208.04 L183.08,208.12 L183.17,208.14 L183.27,208.13 L183.37,208.08 L183.47,208.10 L183.56,207.97 L183.66,207.90 L183.76,207.95 L183.86,207.97 L183.95,207.89 L184.05,207.95 L184.15,207.93 L184.25,207.83 L184.34,207.75 L184.44,207.67 L184.54,207.55 L184.64,207.43 L184.73,207.33 L184.83,207.36 L184.93,207.41 L185.03,207.43 L185.12,207.58 L185.22,207.61 L185.32,207.62 L185.42,207.74 L185.51,207.91 L185.61,207.91 L185.71,208.02 L185.81,207.99 L185.90,207.93 L186.00,207.88 L186.10,207.93 L186.20,208.01 L186.29,208.01 L186.39,207.97 L186.49,208.01 L186.59,208.08 L186.68,208.01 L186.78,208.01 L186.88,208.08 L186.98,208.11 L187.07,208.09 L187.17,208.04 L187.27,208.04 L187.37,208.05 L187.46,207.97 L187.56,207.91 L187.66,207.85 L187.76,207.90 L187.85,207.95 L187.95,208.05 L188.05,208.00 L188.15,208.14 L188.24,208.24 L188.34,208.09 L188.44,208.07 L188.54,208.18 L188.63,208.11 L188.73,208.08 L188.83,208.10 L188.93,207.95 L189.02,207.88 L189.12,207.94 L189.22,207.91 L189.32,208.00 L189.41,207.99 L189.51,207.99 L189.61,207.96 L189.71,207.94 L189.80,207.95 L189.90,208.04 L190.00,208.08 L190.10,208.07 L190.19,208.09 L190.29,208.06 L190.39,208.12 L190.49,208.18 L190.58,208.21 L190.68,208.13 L190.78,208.16 L190.88,208.15 L190.97,208.11 L191.07,208.03 L191.17,208.07 L191.27,208.13 L191.36,208.08 L191.46,207.97 L191.56,207.98 L191.66,207.90 L191.75,207.75 L191.85,207.73 L191.95,207.81 L192.05,207.87 L192.14,207.93 L192.24,207.89 L192.34,207.85 L192.44,207.85 L192.53,207.87 L192.63,207.81 L192.73,207.87 L192.83,207.98 L192.92,207.95 L193.02,207.91 L193.12,208.03 L193.22,208.09 L193.31,208.11 L193.41,208.08 L193.51,208.09 L193.60,208.04"/>
<path d="M35.20,235.54 L35.30,235.54 L35.39,235.54 L35.49,235.55 L35.59,235.65 L35.69,235.67 L35.78,235.67 L35.88,235.70 L35.98,235.69 L36.08,235.64 L36.17,235.63 L36.27,235.63 L36.37,235.56 L36.47,235.50 L36.56,235.44 L36.66,235.45 L36.76,235.49 L36.86,235.52 L36.95,235.59 L37.05,235.67 L37.15,235.65 L37.25,235.59 L37.34,235.61 L37.44,235.51 L37.54,235.47 L37.64,235.49 L37.73,235.47 L37.83,235.44 L37.93,235.53 L38.03,235.51 L38.12,235.53 L38.22,235.61 L38.32,235.66 L38.42,235.60 L38.51,235.66 L38.61,235.71 L38.71,235.69 L38.81,235.64 L38.90,235.65 L39.00,235.61 L39.10,235.52 L39.20,235.46 L39.29,235.42 L39.39,235.42 L39.49,235.47 L39.59,235.42 L39.68,235.41 L39.78,235.51 L39.88,235.60 L39.98,235.58 L40.07,235.57 L40.17,235.58 L40.27,235.62 L40.37,235.56 L40.46,235.52 L40.56,235.61 L40.66,235.61 L40.76,235.60 L40.85,235.59 L40.95,235.60 L41.05,235.56 L41.15,235.62 L41.24,235.50 L41.34,235.55 L41.44,235.54 L41.54,235.58 L41.63,235.53 L41.73,235.50 L41.83,235.48 L41.93,235.53 L42.02,235.51 L42.12,235.57 L42.22,235.67 L42.32,235.59 L42.41,235.59 L42.51,235.56 L42.61,235.49 L42.71,235.59 L42.80,235.71 L42.90,235.68 L43.00,235.66 L43.10,235.68 L43.19,235.56 L43.29,235.53 L43.39,235.53 L43.49,235.58 L43.58,235.54 L43.68,235.47 L43.78,235.41 L43.88,235.52 L43.97,235.50 L44.07,235.51 L44.17,235.57 L44.27,235.52 L44.36,235.45 L44.46,235.52 L44.56,235.51 L44.66,235.53 L44.75,235.64 L44.85,235.61 L44.95,235.59 L45.05,235.64 L45.14,235.65 L45.24,235.62 L45.34,235.56 L45.44,235.56 L45.53,235.53 L45.63,235.47 L45.73,235.47 L45.83,235.56 L45.92,235.49 L46.02,235.47 L46.12,235.52 L46.22,235.52 L46.31,235.48 L46.41,235.50 L46.51,235.53 L46.61,235.52 L46.70,235.46 L46.80,235.43 L46.90,235.44 L47.00,235.40 L47.09,235.35 L47.19,235.31 L47.29,235.35 L47.38,235.26 L47.48,235.32 L47.58,235.37 L47.68,235.45 L47.77,235.50 L47.87,235.54 L47.97,235.50 L48.07,235.52 L48.16,235.53 L48.26,235.40 L48.36,235.44 L48.46,235.48 L48.55,235.42 L48.65,235.41 L48.75,235.51 L48.85,235.53 L48.94,235.58 L49.04,235.64 L49.14,235.64 L49.24,235.61 L49.33,235.60 L49.43,235.61 L49.53,235.58 L49.63,235.54 L49.72,235.54 L49.82,235.56 L49.92,235.44 L50.02,235.48 L50.11,235.47 L50.21,235.50 L50.31,235.50 L50.41,235.58 L50.50,235.49 L50.60,235.47 L50.70,235.49 L50.80,235.42 L50.89,235.34 L50.99,235.46 L51.09,235.53 L51.19,235.50 L51.28,235.47 L51.38,235.54 L51.48,235.55 L51.58,235.58 L51.67,235.52 L51.77,235.62 L51.87,235.54 L51.97,235.44 L52.06,235.36 L52.16,235.42 L52.26,235.35 L52.36,235.42 L52.45,235.44 L52.55,235.49 L52.65,235.44 L52.75,235.47 L52.84,235.37 L52.94,235.41 L53.04,235.39 L53.14,235.39 L53.23,235.39 L53.33,235.38 L53.43,235.32 L53.53,235.27 L53.62,235.26 L53.72,235.23 L53.82,235.36 L53.92,235.41 L54.01,235.50 L54.11,235.53 L54.21,235.54 L54.31,235.45 L54.40,235.46 L54.50,235.47 L54.60,235.42 L54.70,235.36 L54.79,235.40 L54.89,235.33 L54.99,235.20 L55.09,235.25 L55.18,235.31 L55.28,235.27 L55.38,235.22 L55.48,235.33 L55.57,235.26 L55.67,235.26 L55.77,235.27 L55.87,235.30 L55.96,235.33 L56.06,235.36 L56.16,235.36 L56.26,235.41 L56.35,235.45 L56.45,235.38 L56.55,235.44 L56.65,235.45 L56.74,235.45 L56.84,235.38 L56.94,235.38 L57.04,235.38 L57.13,235.28 L57.23,235.24 L57.33,235.30 L57.43,235.33 L57.52,235.30 L57.62,235.31 L57.72,235.34 L57.82,235.35 L57.91,235.34 L58.01,235.28 L58.11,235.29 L58.21,235.24 L58.30,235.17 L58.40,235.18 L58.50,235.19 L58.60,235.30 L58.69,235.30 L58.79,235.41 L58.89,235.44 L58.99,235.46 L59.08,235.39 L59.18,235.38 L59.28,235.33 L59.38,235.17 L59.47,235.22 L59.57,235.18 L59.67,235.17 L59.76,235.13 L59.86,235.23 L59.96,235.12 L60.06,235.11 L60.15,235.15 L60.25,235.07 L60.35,234.88 L60.45,234.92 L60.54,234.84 L60.64,234.72 L60.74,234.72 L60.84,234.75 L60.93,234.63 L61.03,234.64 L61.13,234.62 L61.23,234.61 L61.32,234.67 L61.42,234.69 L61.52,234.65 L61.62,234.54 L61.71,234.53 L61.81,234.35 L61.91,234.25 L62.01,234.09 L62.10,233.98 L62.20,233.74 L62.30,233.58 L62.40,233.29 L62.49,233.10 L62.59,232.96 L62.69,232.67 L62.79,232.35 L62.88,232.08 L62.98,231.76 L63.08,231.29 L63.18,230.94 L63.27,230.67 L63.37,230.39 L63.47,230.11 L63.57,229.93 L63.66,229.81 L63.76,229.75 L63.86,229.81 L63.96,229.98 L64.05,230.22 L64.15,230.54 L64.25,230.90 L64.35,231.21 L64.44,231.60 L64.54,232.02 L64.64,232.41 L64.74,232.69 L64.83,232.95 L64.93,233.13 L65.03,233.29 L65.13,233.48 L65.22,233.68 L65.32,233.80 L65.42,233.93 L65.52,234.00 L65.61,234.02 L65.71,234.01 L65.81,234.17 L65.91,234.32 L66.00,234.50 L66.10,234.62 L66.20,234.75 L66.30,234.78 L66.39,234.71 L66.49,234.68 L66.59,234.63 L66.69,234.56 L66.78,234.55 L66.88,234.67 L66.98,234.65 L67.08,234.64 L67.17,234.65 L67.27,234.64 L67.37,234.53 L67.47,234.52 L67.56,234.50 L67.66,234.47 L67.76,234.55 L67.86,234.55 L67.95,234.50 L68.05,234.55 L68.15,234.54 L68.25,234.38 L68.34,234.29 L68.44,234.21 L68.54,234.09 L68.64,234.03 L68.73,233.95 L68.83,233.85 L68.93,233.73 L69.03,233.56 L69.12,233.41 L69.22,233.24 L69.32,233.04 L69.42,232.89 L69.51,232.69 L69.61,232.46 L69.71,232.30 L69.81,232.12 L69.90,231.95 L70.00,231.95 L70.10,231.92 L70.20,231.93 L70.29,232.06 L70.39,232.22 L70.49,232.25 L70.59,232.34 L70.68,232.51 L70.78,232.65 L70.88,232.85 L70.98,233.11 L71.07,233.37 L71.17,233.52 L71.27,233.62 L71.37,233.60 L71.46,233.66 L71.56,233.74 L71.66,233.74 L71.75,233.86 L71.85,233.88 L71.95,233.84 L72.05,233.81 L72.14,233.82 L72.24,233.72 L72.34,233.79 L72.44,233.77 L72.53,233.68 L72.63,233.59 L72.73,233.56 L72.83,233.44 L72.92,233.30 L73.02,233.19 L73.12,233.00 L73.22,232.77 L73.31,232.49 L73.41,232.18 L73.51,231.82 L73.61,231.45 L73.70,231.04 L73.80,230.59 L73.90,230.07 L74.00,229.54 L74.09,228.97 L74.19,228.53 L74.29,228.12 L74.39,227.84 L74.48,227.60 L74.58,227.56 L74.68,227.57 L74.78,227.74 L74.87,228.08 L74.97,228.53 L75.07,229.04 L75.17,229.49 L75.26,230.08 L75.36,230.49 L75.46,230.99 L75.56,231.40 L75.65,231.78 L75.75,232.07 L75.85,232.40 L75.95,232.66 L76.04,232.93 L76.14,233.19 L76.24,233.37 L76.34,233.64 L76.43,233.78 L76.53,233.89 L76.63,233.90 L76.73,233.99 L76.82,234.08 L76.92,234.18 L77.02,234.25 L77.12,234.44 L77.21,234.59 L77.31,234.56 L77.41,234.57 L77.51,234.67 L77.60,234.64 L77.70,234.70 L77.80,234.83 L77.90,234.82 L77.99,234.91 L78.09,235.00 L78.19,234.99 L78.29,234.95 L78.38,235.07 L78.48,235.02 L78.58,234.98 L78.68,234.94 L78.77,234.95 L78.87,234.96 L78.97,234.93 L79.07,235.08 L79.16,235.20 L79.26,235.21 L79.36,235.20 L79.46,235.20 L79.55,235.07 L79.65,235.06 L79.75,235.09 L79.85,235.14 L79.94,235.16 L80.04,235.25 L80.14,235.20 L80.24,235.18 L80.33,235.05 L80.43,235.07 L80.53,235.07 L80.63,235.06 L80.72,235.00 L80.82,235.13 L80.92,235.18 L81.02,235.06 L81.11,235.01 L81.21,235.05 L81.31,234.99 L81.41,234.95 L81.50,235.06 L81.60,235.19 L81.70,235.14 L81.80,235.14 L81.89,235.19 L81.99,235.14 L82.09,235.11 L82.19,235.12 L82.28,235.12 L82.38,235.07 L82.48,235.17 L82.58,235.12 L82.67,235.13 L82.77,235.12 L82.87,235.15 L82.97,235.09 L83.06,235.10 L83.16,235.14 L83.26,235.16 L83.36,235.16 L83.45,235.13 L83.55,235.10 L83.65,235.11 L83.75,235.13 L83.84,235.11 L83.94,235.16 L84.04,235.23 L84.13,235.27 L84.23,235.29 L84.33,235.21 L84.43,235.25 L84.52,235.24 L84.62,235.20 L84.72,235.15 L84.82,235.23 L84.91,235.21 L85.01,235.24 L85.11,235.26 L85.21,235.27 L85.30,235.25 L85.40,235.20 L85.50,235.13 L85.60,235.08 L85.69,235.11 L85.79,235.19 L85.89,235.16 L85.99,235.12 L86.08,235.13 L86.18,235.22 L86.28,235.20 L86.38,235.18 L86.47,235.17 L86.57,235.20 L86.67,235.10 L86.77,235.10 L86.86,235.14 L86.96,235.22 L87.06,235.23 L87.16,235.32 L87.25,235.24 L87.35,235.31 L87.45,235.30 L87.55,235.19 L87.64,235.10 L87.74,235.05 L87.84,234.94 L87.94,234.91 L88.03,234.94 L88.13,234.93 L88.23,235.01 L88.33,235.16 L88.42,235.14 L88.52,235.19 L88.62,235.22 L88.72,235.18 L88.81,235.17 L88.91,235.24 L89.01,235.19 L89.11,235.24 L89.20,235.27 L89.30,235.24 L89.40,235.26 L89.50,235.32 L89.59,235.33 L89.69,235.34 L89.79,235.30 L89.89,235.32 L89.98,235.32 L90.08,235.30 L90.18,235.31 L90.28,235.32 L90.37,235.23 L90.47,235.12 L90.57,235.07 L90.67,235.04 L90.76,235.09 L90.86,235.24 L90.96,235.32 L91.06,235.32 L91.15,235.36 L91.25,235.34 L91.35,235.29 L91.45,235.32 L91.54,235.30 L91.64,235.31 L91.74,235.25 L91.84,235.20 L91.93,235.10 L92.03,235.14 L92.13,235.19 L92.23,235.26 L92.32,235.28 L92.42,235.35 L92.52,235.30 L92.62,235.18 L92.71,235.17 L92.81,235.17 L92.91,235.12 L93.01,235.14 L93.10,235.11 L93.20,235.06 L93.30,235.01 L93.40,235.12 L93.49,235.16 L93.59,235.19 L93.69,235.12 L93.79,235.14 L93.88,235.13 L93.98,235.08 L94.08,235.11 L94.18,235.17 L94.27,235.19 L94.37,235.13 L94.47,235.15 L94.57,235.17 L94.66,235.19 L94.76,235.14 L94.86,235.11 L94.96,235.12 L95.05,235.15 L95.15,235.13 L95.25,235.13 L95.35,235.16 L95.44,235.10 L95.54,235.07 L95.64,235.08 L95.74,235.14 L95.83,235.10 L95.93,235.10 L96.03,235.12 L96.12,235.10 L96.22,235.14 L96.32,235.21 L96.42,235.25 L96.51,235.20 L96.61,235.22 L96.71,235.16 L96.81,235.23 L96.90,235.22 L97.00,235.27 L97.10,235.26 L97.20,235.26 L97.29,235.21 L97.39,235.19 L97.49,235.19 L97.59,235.07 L97.68,235.02 L97.78,234.99 L97.88,234.96 L97.98,234.94 L98.07,235.07 L98.17,235.11 L98.27,235.05 L98.37,235.06 L98.46,235.00 L98.56,235.04 L98.66,235.03 L98.76,235.00 L98.85,235.08 L98.95,235.17 L99.05,235.05 L99.15,235.06 L99.24,235.07 L99.34,235.00 L99.44,234.94 L99.54,234.98 L99.63,234.96 L99.73,234.98 L99.83,234.98 L99.93,235.00 L100.02,234.95 L100.12,234.93 L100.22,234.86 L100.32,234.85 L100.41,234.73 L100.51,234.81 L100.61,234.69 L100.71,234.68 L100.80,234.57 L100.90,234.59 L101.00,234.48 L101.10,234.49 L101.19,234.36 L101.29,234.28 L101.39,234.11 L101.49,233.96 L101.58,233.85 L101.68,233.72 L101.78,233.62 L101.88,233.58 L101.97,233.44 L102.07,233.32 L102.17,233.25 L102.27,233.22 L102.36,233.29 L102.46,233.44 L102.56,233.59 L102.66,233.82 L102.75,233.87 L102.85,233.96 L102.95,234.03 L103.05,234.16 L103.14,234.17 L103.24,234.36 L103.34,234.50 L103.44,234.50 L103.53,234.51 L103.63,234.53 L103.73,234.56 L103.83,234.49 L103.92,234.59 L104.02,234.64 L104.12,234.75 L104.22,234.86 L104.31,234.92 L104.41,234.91 L104.51,234.96 L104.61,234.98 L104.70,234.93 L104.80,235.04 L104.90,235.04 L105.00,235.03 L105.09,235.07 L105.19,235.09 L105.29,235.07 L105.39,235.16 L105.48,235.09 L105.58,235.06 L105.68,235.04 L105.78,235.13 L105.87,235.01 L105.97,235.04 L106.07,235.11 L106.17,235.12 L106.26,235.06 L106.36,235.09 L106.46,235.16 L106.56,235.05 L106.65,235.03 L106.75,234.95 L106.85,235.05 L106.95,235.00 L107.04,235.08 L107.14,235.11 L107.24,235.16 L107.34,235.16 L107.43,235.14 L107.53,235.11 L107.63,235.08 L107.73,235.10 L107.82,235.06 L107.92,235.10 L108.02,235.13 L108.12,235.12 L108.21,235.04 L108.31,235.03 L108.41,235.04 L108.50,234.93 L108.60,234.97 L108.70,235.04 L108.80,235.06 L108.89,235.03 L108.99,235.03 L109.09,235.05 L109.19,235.03 L109.28,234.97 L109.38,235.02 L109.48,235.10 L109.58,235.05 L109.67,235.04 L109.77,235.05 L109.87,235.02 L109.97,234.98 L110.06,235.03 L110.16,234.95 L110.26,234.98 L110.36,235.03 L110.45,235.07 L110.55,235.03 L110.65,235.12 L110.75,235.09 L110.84,235.00 L110.94,235.02 L111.04,235.01 L111.14,235.09 L111.23,235.04 L111.33,235.04 L111.43,235.06 L111.53,235.13 L111.62,235.00 L111.72,235.01 L111.82,235.00 L111.92,234.98 L112.01,235.03 L112.11,235.08 L112.21,235.16 L112.31,235.19 L112.40,235.21 L112.50,235.16 L112.60,235.12 L112.70,235.12 L112.79,235.14 L112.89,235.08 L112.99,234.99 L113.09,234.95 L113.18,234.84 L113.28,234.87 L113.38,234.92 L113.48,235.00 L113.57,234.99 L113.67,235.06 L113.77,235.06 L113.87,235.11 L113.96,235.06 L114.06,235.11 L114.16,235.10 L114.26,235.04 L114.35,234.91 L114.45,234.90 L114.55,234.86 L114.65,234.92 L114.74,234.89 L114.84,234.98 L114.94,234.96 L115.04,235.04 L115.13,235.00 L115.23,235.06 L115.33,235.07 L115.43,235.10 L115.52,235.01 L115.62,235.02 L115.72,234.98 L115.82,234.98 L115.91,234.99 L116.01,235.03 L116.11,235.04 L116.21,234.99 L116.30,235.00 L116.40,235.02 L116.50,235.04 L116.60,234.93 L116.69,235.03 L116.79,234.98 L116.89,234.95 L116.99,234.90 L117.08,235.02 L117.18,234.97 L117.28,235.00 L117.38,235.02 L117.47,235.10 L117.57,235.10 L117.67,235.07 L117.77,235.01 L117.86,234.89 L117.96,234.90 L118.06,234.90 L118.16,234.93 L118.25,234.90 L118.35,234.97 L118.45,234.95 L118.55,234.91 L118.64,234.94 L118.74,234.96 L118.84,235.01 L118.94,234.97 L119.03,234.98 L119.13,234.85 L119.23,234.86 L119.33,234.92 L119.42,234.90 L119.52,234.92 L119.62,234.93 L119.72,234.91 L119.81,234.83 L119.91,234.82 L120.01,234.78 L120.11,234.86 L120.20,234.88 L120.30,234.88 L120.40,234.98 L120.49,235.06 L120.59,234.97 L120.69,234.94 L120.79,235.00 L120.88,234.87 L120.98,234.80 L121.08,234.89 L121.18,234.90 L121.27,234.83 L121.37,234.85 L121.47,234.90 L121.57,234.86 L121.66,234.87 L121.76,234.87 L121.86,234.85 L121.96,234.81 L122.05,234.69 L122.15,234.71 L122.25,234.62 L122.35,234.67 L122.44,234.55 L122.54,234.60 L122.64,234.53 L122.74,234.62 L122.83,234.47 L122.93,234.51 L123.03,234.38 L123.13,234.26 L123.22,234.04 L123.32,233.91 L123.42,233.80 L123.52,233.70 L123.61,233.59 L123.71,233.50 L123.81,233.40 L123.91,233.19 L124.00,233.13 L124.10,233.09 L124.20,233.01 L124.30,232.89 L124.39,232.93 L124.49,232.88 L124.59,232.91 L124.69,232.94 L124.78,233.15 L124.88,233.23 L124.98,233.44 L125.08,233.50 L125.17,233.64 L125.27,233.71 L125.37,233.83 L125.47,233.97 L125.56,234.10 L125.66,234.26 L125.76,234.42 L125.86,234.53 L125.95,234.55 L126.05,234.56 L126.15,234.56 L126.25,234.44 L126.34,234.44 L126.44,234.45 L126.54,234.49 L126.64,234.55 L126.73,234.68 L126.83,234.73 L126.93,234.74 L127.03,234.77 L127.12,234.79 L127.22,234.82 L127.32,234.85 L127.42,234.90 L127.51,234.98 L127.61,234.96 L127.71,234.92 L127.81,234.86 L127.90,234.94 L128.00,234.90 L128.10,234.94 L128.20,234.92 L128.29,234.97 L128.39,234.90 L128.49,234.94 L128.59,234.84 L128.68,234.93 L128.78,234.87 L128.88,234.79 L128.98,234.73 L129.07,234.77 L129.17,234.70 L129.27,234.82 L129.37,234.84 L129.46,234.92 L129.56,234.96 L129.66,235.00 L129.76,234.92 L129.85,234.92 L129.95,234.88 L130.05,234.81 L130.15,234.79 L130.24,234.85 L130.34,234.87 L130.44,234.88 L130.54,234.87 L130.63,234.88 L130.73,234.79 L130.83,234.73 L130.93,234.69 L131.02,234.72 L131.12,234.79 L131.22,234.75 L131.32,234.81 L131.41,234.87 L131.51,234.83 L131.61,234.79 L131.71,234.74 L131.80,234.78 L131.90,234.71 L132.00,234.76 L132.10,234.78 L132.19,234.87 L132.29,234.81 L132.39,234.87 L132.49,234.90 L132.58,234.92 L132.68,234.95 L132.78,234.93 L132.87,234.87 L132.97,234.93 L133.07,234.93 L133.17,234.99 L133.26,235.01 L133.36,234.98 L133.46,234.93 L133.56,234.94 L133.65,234.91 L133.75,234.93 L133.85,235.03 L133.95,234.94 L134.04,234.89 L134.14,234.86 L134.24,234.81 L134.34,234.72 L134.43,234.75 L134.53,234.71 L134.63,234.70 L134.73,234.65 L134.82,234.70 L134.92,234.69 L135.02,234.80 L135.12,234.78 L135.21,234.86 L135.31,234.87 L135.41,234.87 L135.51,234.82 L135.60,234.80 L135.70,234.80 L135.80,234.76 L135.90,234.82 L135.99,234.77 L136.09,234.81 L136.19,234.80 L136.29,234.80 L136.38,234.69 L136.48,234.76 L136.58,234.79 L136.68,234.79 L136.77,234.81 L136.87,234.88 L136.97,234.83 L137.07,234.73 L137.16,234.62 L137.26,234.65 L137.36,234.58 L137.46,234.57 L137.55,234.50 L137.65,234.59 L137.75,234.51 L137.85,234.48 L137.94,234.37 L138.04,234.40 L138.14,234.37 L138.24,234.28 L138.33,234.23 L138.43,234.24 L138.53,234.14 L138.63,233.98 L138.72,233.94 L138.82,233.82 L138.92,233.67 L139.02,233.50 L139.11,233.40 L139.21,233.31 L139.31,233.23 L139.41,233.16 L139.50,233.13 L139.60,233.15 L139.70,233.13 L139.80,233.12 L139.89,233.17 L139.99,233.24 L140.09,233.24 L140.19,233.32 L140.28,233.48 L140.38,233.64 L140.48,233.77 L140.58,233.92 L140.67,234.02 L140.77,234.15 L140.87,234.17 L140.97,234.26 L141.06,234.34 L141.16,234.37 L141.26,234.36 L141.36,234.47 L141.45,234.55 L141.55,234.58 L141.65,234.57 L141.75,234.69 L141.84,234.61 L141.94,234.57 L142.04,234.58 L142.14,234.65 L142.23,234.62 L142.33,234.63 L142.43,234.66 L142.53,234.63 L142.62,234.67 L142.72,234.63 L142.82,234.67 L142.92,234.66 L143.01,234.75 L143.11,234.61 L143.21,234.67 L143.31,234.76 L143.40,234.75 L143.50,234.68 L143.60,234.81 L143.70,234.85 L143.79,234.71 L143.89,234.73 L143.99,234.77 L144.09,234.80 L144.18,234.74 L144.28,234.71 L144.38,234.74 L144.48,234.71 L144.57,234.69 L144.67,234.70 L144.77,234.83 L144.86,234.85 L144.96,234.85 L145.06,234.81 L145.16,234.79 L145.25,234.71 L145.35,234.74 L145.45,234.76 L145.55,234.80 L145.64,234.81 L145.74,234.85 L145.84,234.82 L145.94,234.74 L146.03,234.71 L146.13,234.74 L146.23,234.66 L146.33,234.61 L146.42,234.64 L146.52,234.61 L146.62,234.55 L146.72,234.62 L146.81,234.58 L146.91,234.57 L147.01,234.49 L147.11,234.40 L147.20,234.38 L147.30,234.45 L147.40,234.39 L147.50,234.38 L147.59,234.46 L147.69,234.42 L147.79,234.34 L147.89,234.31 L147.98,234.33 L148.08,234.23 L148.18,234.19 L148.28,234.14 L148.37,234.18 L148.47,234.19 L148.57,234.21 L148.67,234.23 L148.76,234.33 L148.86,234.31 L148.96,234.32 L149.06,234.32 L149.15,234.32 L149.25,234.32 L149.35,234.38 L149.45,234.40 L149.54,234.45 L149.64,234.53 L149.74,234.56 L149.84,234.53 L149.93,234.49 L150.03,234.45 L150.13,234.34 L150.23,234.18 L150.32,234.11 L150.42,233.99 L150.52,233.97 L150.62,234.00 L150.71,234.02 L150.81,234.07 L150.91,234.03 L151.01,233.89 L151.10,233.73 L151.20,233.67 L151.30,233.45 L151.40,233.36 L151.49,233.34 L151.59,233.25 L151.69,233.14 L151.79,233.16 L151.88,233.18 L151.98,233.17 L152.08,233.26 L152.18,233.40 L152.27,233.47 L152.37,233.52 L152.47,233.68 L152.57,233.74 L152.66,233.75 L152.76,233.81 L152.86,233.92 L152.96,233.92 L153.05,234.03 L153.15,234.13 L153.25,234.21 L153.35,234.30 L153.44,234.33 L153.54,234.29 L153.64,234.29 L153.74,234.16 L153.83,234.09 L153.93,234.10 L154.03,234.03 L154.13,233.89 L154.22,234.01 L154.32,234.08 L154.42,233.95 L154.52,233.96 L154.61,234.02 L154.71,233.99 L154.81,233.82 L154.91,233.83 L155.00,233.84 L155.10,233.80 L155.20,233.86 L155.30,233.95 L155.39,234.09 L155.49,234.15 L155.59,234.28 L155.69,234.26 L155.78,234.35 L155.88,234.41 L155.98,234.47 L156.08,234.49 L156.17,234.52 L156.27,234.53 L156.37,234.49 L156.47,234.48 L156.56,234.46 L156.66,234.45 L156.76,234.50 L156.86,234.57 L156.95,234.58 L157.05,234.60 L157.15,234.59 L157.24,234.53 L157.34,234.48 L157.44,234.48 L157.54,234.48 L157.63,234.52 L157.73,234.54 L157.83,234.62 L157.93,234.71 L158.02,234.67 L158.12,234.74 L158.22,234.76 L158.32,234.75 L158.41,234.71 L158.51,234.77 L158.61,234.79 L158.71,234.70 L158.80,234.58 L158.90,234.60 L159.00,234.66 L159.10,234.55 L159.19,234.62 L159.29,234.69 L159.39,234.72 L159.49,234.70 L159.58,234.73 L159.68,234.83 L159.78,234.89 L159.88,234.80 L159.97,234.77 L160.07,234.76 L160.17,234.73 L160.27,234.73 L160.36,234.78 L160.46,234.75 L160.56,234.79 L160.66,234.72 L160.75,234.72 L160.85,234.75 L160.95,234.82 L161.05,234.80 L161.14,234.79 L161.24,234.76 L161.34,234.80 L161.44,234.80 L161.53,234.80 L161.63,234.78 L161.73,234.75 L161.83,234.69 L161.92,234.61 L162.02,234.62 L162.12,234.63 L162.22,234.61 L162.31,234.54 L162.41,234.52 L162.51,234.46 L162.61,234.40 L162.70,234.37 L162.80,234.33 L162.90,234.31 L163.00,234.37 L163.09,234.39 L163.19,234.44 L163.29,234.53 L163.39,234.59 L163.48,234.55 L163.58,234.62 L163.68,234.64 L163.78,234.60 L163.87,234.66 L163.97,234.59 L164.07,234.60 L164.17,234.62 L164.26,234.69 L164.36,234.60 L164.46,234.74 L164.56,234.72 L164.65,234.54 L164.75,234.54 L164.85,234.63 L164.95,234.57 L165.04,234.48 L165.14,234.60 L165.24,234.56 L165.34,234.51 L165.43,234.58 L165.53,234.70 L165.63,234.69 L165.73,234.71 L165.82,234.65 L165.92,234.61 L166.02,234.64 L166.12,234.73 L166.21,234.61 L166.31,234.61 L166.41,234.60 L166.51,234.52 L166.60,234.40 L166.70,234.50 L166.80,234.53 L166.90,234.57 L166.99,234.68 L167.09,234.71 L167.19,234.75 L167.29,234.73 L167.38,234.70 L167.48,234.57 L167.58,234.62 L167.68,234.61 L167.77,234.67 L167.87,234.65 L167.97,234.72 L168.07,234.70 L168.16,234.70 L168.26,234.72 L168.36,234.75 L168.46,234.77 L168.55,234.83 L168.65,234.81 L168.75,234.84 L168.85,234.83 L168.94,234.83 L169.04,234.78 L169.14,234.76 L169.23,234.72 L169.33,234.69 L169.43,234.69 L169.53,234.69 L169.62,234.74 L169.72,234.68 L169.82,234.68 L169.92,234.72 L170.01,234.72 L170.11,234.68 L170.21,234.69 L170.31,234.68 L170.40,234.56 L170.50,234.61 L170.60,234.55 L170.70,234.60 L170.79,234.59 L170.89,234.62 L170.99,234.65 L171.09,234.66 L171.18,234.67 L171.28,234.65 L171.38,234.66 L171.48,234.54 L171.57,234.54 L171.67,234.51 L171.77,234.50 L171.87,234.48 L171.96,234.51 L172.06,234.51 L172.16,234.47 L172.26,234.53 L172.35,234.51 L172.45,234.42 L172.55,234.38 L172.65,234.44 L172.74,234.34 L172.84,234.33 L172.94,234.39 L173.04,234.44 L173.13,234.31 L173.23,234.31 L173.33,234.24 L173.43,234.19 L173.52,234.10 L173.62,234.14 L173.72,234.20 L173.82,234.24 L173.91,234.18 L174.01,234.23 L174.11,234.20 L174.21,234.15 L174.30,234.15 L174.40,234.25 L174.50,234.29 L174.60,234.27 L174.69,234.31 L174.79,234.35 L174.89,234.39 L174.99,234.43 L175.08,234.51 L175.18,234.51 L175.28,234.51 L175.38,234.48 L175.47,234.50 L175.57,234.38 L175.67,234.42 L175.77,234.46 L175.86,234.51 L175.96,234.43 L176.06,234.56 L176.16,234.53 L176.25,234.52 L176.35,234.51 L176.45,234.63 L176.55,234.68 L176.64,234.64 L176.74,234.64 L176.84,234.62 L176.94,234.51 L177.03,234.47 L177.13,234.49 L177.23,234.50 L177.33,234.53 L177.42,234.55 L177.52,234.53 L177.62,234.58 L177.72,234.64 L177.81,234.61 L177.91,234.61 L178.01,234.67 L178.11,234.66 L178.20,234.62 L178.30,234.68 L178.40,234.80 L178.50,234.76 L178.59,234.78 L178.69,234.74 L178.79,234.67 L178.89,234.58 L178.98,234.70 L179.08,234.66 L179.18,234.72 L179.28,234.76 L179.37,234.73 L179.47,234.67 L179.57,234.64 L179.67,234.55 L179.76,234.52 L179.86,234.57 L179.96,234.52 L180.06,234.57 L180.15,234.51 L180.25,234.51 L180.35,234.41 L180.45,234.43 L180.54,234.42 L180.64,234.45 L180.74,234.43 L180.84,234.43 L180.93,234.45 L181.03,234.46 L181.13,234.51 L181.23,234.56 L181.32,234.59 L181.42,234.50 L181.52,234.46 L181.61,234.46 L181.71,234.48 L181.81,234.50 L181.91,234.55 L182.00,234.60 L182.10,234.57 L182.20,234.55 L182.30,234.49 L182.39,234.47 L182.49,234.37 L182.59,234.40 L182.69,234.46 L182.78,234.51 L182.88,234.49 L182.98,234.56 L183.08,234.56 L183.17,234.50 L183.27,234.47 L183.37,234.50 L183.47,234.39 L183.56,234.32 L183.66,234.36 L183.76,234.37 L183.86,234.34 L183.95,234.31 L184.05,234.31 L184.15,234.22 L184.25,234.23 L184.34,234.18 L184.44,234.22 L184.54,234.23 L184.64,234.22 L184.73,234.11 L184.83,234.13 L184.93,234.29 L185.03,234.43 L185.12,234.37 L185.22,234.44 L185.32,234.52 L185.42,234.33 L185.51,234.31 L185.61,234.48 L185.71,234.51 L185.81,234.47 L185.90,234.52 L186.00,234.52 L186.10,234.42 L186.20,234.45 L186.29,234.47 L186.39,234.55 L186.49,234.46 L186.59,234.46 L186.68,234.44 L186.78,234.51 L186.88,234.51 L186.98,234.51 L187.07,234.60 L187.17,234.61 L187.27,234.51 L187.37,234.50 L187.46,234.44 L187.56,234.44 L187.66,234.50 L187.76,234.55 L187.85,234.55 L187.95,234.66 L188.05,234.68 L188.15,234.60 L188.24,234.60 L188.34,234.53 L188.44,234.51 L188.54,234.43 L188.63,234.55 L188.73,234.46 L188.83,234.49 L188.93,234.47 L189.02,234.46 L189.12,234.35 L189.22,234.46 L189.32,234.54 L189.41,234.60 L189.51,234.66 L189.61,234.68 L189.71,234.57 L189.80,234.53 L189.90,234.53 L190.00,234.52 L190.10,234.43 L190.19,234.54 L190.29,234.47 L190.39,234.52 L190.49,234.46 L190.58,234.51 L190.68,234.43 L190.78,234.43 L190.88,234.33 L190.97,234.32 L191.07,234.36 L191.17,234.43 L191.27,234.45 L191.36,234.44 L191.46,234.42 L191.56,234.41 L191.66,234.39 L191.75,234.37 L191.85,234.45 L191.95,234.49 L192.05,234.50 L192.14,234.46 L192.24,234.45 L192.34,234.45 L192.44,234.41 L192.53,234.46 L192.63,234.49 L192.73,234.50 L192.83,234.48 L192.92,234.52 L193.02,234.50 L193.12,234.42 L193.22,234.49 L193.31,234.48 L193.41,234.50 L193.51,234.49 L193.60,234.56"/>
</g>
<rect x="35.1" y="6.3" width="158.6" height="241.85" fill="none" stroke="#585858" stroke-width="0.95"/>
<g stroke="#444" stroke-width="0.9">
<line x1="32.300000000000004" x2="35.1" y1="224.00" y2="224.00"/>
<line x1="32.300000000000004" x2="35.1" y1="175.60" y2="175.60"/>
<line x1="32.300000000000004" x2="35.1" y1="127.20" y2="127.20"/>
<line x1="32.300000000000004" x2="35.1" y1="78.80" y2="78.80"/>
<line x1="32.300000000000004" x2="35.1" y1="30.40" y2="30.40"/>
<line x1="33.6" x2="35.1" y1="248.20" y2="248.20"/>
<line x1="33.6" x2="35.1" y1="199.80" y2="199.80"/>
<line x1="33.6" x2="35.1" y1="151.40" y2="151.40"/>
<line x1="33.6" x2="35.1" y1="103.00" y2="103.00"/>
<line x1="33.6" x2="35.1" y1="54.60" y2="54.60"/>
<line x1="33.6" x2="35.1" y1="6.20" y2="6.20"/>
<line y1="248.15" y2="250.65" x1="35.20" x2="35.20" stroke="#555" stroke-width="0.75"/>
<line y1="248.15" y2="250.65" x1="59.57" x2="59.57" stroke="#555" stroke-width="0.75"/>
<line y1="248.15" y2="250.65" x1="83.94" x2="83.94" stroke="#555" stroke-width="0.75"/>
<line y1="248.15" y2="250.65" x1="108.31" x2="108.31" stroke="#555" stroke-width="0.75"/>
<line y1="248.15" y2="250.65" x1="132.68" x2="132.68" stroke="#555" stroke-width="0.75"/>
<line y1="248.15" y2="250.65" x1="157.05" x2="157.05" stroke="#555" stroke-width="0.75"/>
<line y1="248.15" y2="250.65" x1="181.42" x2="181.42" stroke="#555" stroke-width="0.75"/>
</g>
<text transform="translate(30.50,226.60) scale(0.895,1)" text-anchor="end" font-family="Liberation Sans, sans-serif" font-size="11.8" fill="#151515" stroke="#151515" stroke-width="0.3">2</text>
<text transform="translate(30.50,178.20) scale(0.895,1)" text-anchor="end" font-family="Liberation Sans, sans-serif" font-size="11.8" fill="#151515" stroke="#151515" stroke-width="0.3">4</text>
<text transform="translate(30.50,129.80) scale(0.895,1)" text-anchor="end" font-family="Liberation Sans, sans-serif" font-size="11.8" fill="#151515" stroke="#151515" stroke-width="0.3">6</text>
<text transform="translate(30.50,81.40) scale(0.895,1)" text-anchor="end" font-family="Liberation Sans, sans-serif" font-size="11.8" fill="#151515" stroke="#151515" stroke-width="0.3">8</text>
<text transform="translate(30.50,33.00) scale(0.895,1)" text-anchor="end" font-family="Liberation Sans, sans-serif" font-size="11.8" fill="#151515" stroke="#151515" stroke-width="0.3">10</text>
<text transform="translate(35.20,262.0) scale(0.895,1)" text-anchor="middle" font-family="Liberation Sans, sans-serif" font-size="11.8" fill="#151515" stroke="#151515" stroke-width="0.3">20</text>
<text transform="translate(59.57,262.0) scale(0.895,1)" text-anchor="middle" font-family="Liberation Sans, sans-serif" font-size="11.8" fill="#151515" stroke="#151515" stroke-width="0.3">30</text>
<text transform="translate(83.94,262.0) scale(0.895,1)" text-anchor="middle" font-family="Liberation Sans, sans-serif" font-size="11.8" fill="#151515" stroke="#151515" stroke-width="0.3">40</text>
<text transform="translate(108.31,262.0) scale(0.895,1)" text-anchor="middle" font-family="Liberation Sans, sans-serif" font-size="11.8" fill="#151515" stroke="#151515" stroke-width="0.3">50</text>
<text transform="translate(132.68,262.0) scale(0.895,1)" text-anchor="middle" font-family="Liberation Sans, sans-serif" font-size="11.8" fill="#151515" stroke="#151515" stroke-width="0.3">60</text>
<text transform="translate(157.05,262.0) scale(0.895,1)" text-anchor="middle" font-family="Liberation Sans, sans-serif" font-size="11.8" fill="#151515" stroke="#151515" stroke-width="0.3">70</text>
<text transform="translate(181.42,262.0) scale(0.895,1)" text-anchor="middle" font-family="Liberation Sans, sans-serif" font-size="11.8" fill="#151515" stroke="#151515" stroke-width="0.3">80</text>
<text transform="translate(115,279.4) scale(0.940,1)" text-anchor="middle" font-family="Liberation Sans, sans-serif" font-size="11.4" fill="#151515" stroke="#151515" stroke-width="0.25">2θ (degrees)</text>
<text transform="translate(10.9,134.6) rotate(-90) scale(0.942,1)" text-anchor="middle" font-family="Liberation Sans, sans-serif" font-size="11.4" fill="#151515" stroke="#151515" stroke-width="0.25">Counts X10<tspan font-size="7.2" dy="-5.4">5</tspan><tspan dy="5.4"> (a.u.)</tspan></text>
<text x="37.9" y="17.9" font-family="Liberation Sans, sans-serif" font-size="12" fill="#151515" stroke="#151515" stroke-width="0.25" letter-spacing="0.1">(a)</text>
<text x="121" y="15.0" font-family="Liberation Sans, sans-serif" font-size="9.2" fill="#1a1a1a" stroke="#1a1a1a" stroke-width="0.15" letter-spacing="-0.29">i) 0 min / 165 nm</text>
<text x="121" y="25.1" font-family="Liberation Sans, sans-serif" font-size="9.2" fill="#1a1a1a" stroke="#1a1a1a" stroke-width="0.15" letter-spacing="-0.29">ii) 3 min / 134 nm</text>
<text x="121" y="35.1" font-family="Liberation Sans, sans-serif" font-size="9.2" fill="#1a1a1a" stroke="#1a1a1a" stroke-width="0.15" letter-spacing="-0.29">iii) 5 min / 105 nm</text>
<text x="121" y="45.2" font-family="Liberation Sans, sans-serif" font-size="9.2" fill="#1a1a1a" stroke="#1a1a1a" stroke-width="0.15" letter-spacing="-0.29">iv) 14 min / 48 nm</text>
<text x="47.4" y="121.4" text-anchor="middle" font-family="Liberation Sans, sans-serif" font-size="12" fill="#151515" stroke="#151515" stroke-width="0.2" letter-spacing="-0.2">(i)</text>
<text x="47.6" y="160" text-anchor="middle" font-family="Liberation Sans, sans-serif" font-size="12" fill="#151515" stroke="#151515" stroke-width="0.2" letter-spacing="-0.2">(ii)</text>
<text x="48.5" y="202.6" text-anchor="middle" font-family="Liberation Sans, sans-serif" font-size="12" fill="#151515" stroke="#151515" stroke-width="0.2" letter-spacing="-0.2">(iii)</text>
<text x="47.3" y="229.7" text-anchor="middle" font-family="Liberation Sans, sans-serif" font-size="12" fill="#151515" stroke="#151515" stroke-width="0.2"  letter-spacing="-0.6">(iv)</text>
<text transform="translate(64.80,65.3) rotate(-90)" font-family="Liberation Sans, sans-serif" font-size="7" fill="#1a1a1a" stroke="#1a1a1a" stroke-width="0.15" letter-spacing="-0.05">(100)</text>
<text transform="translate(72.20,83.7) rotate(-90)" font-family="Liberation Sans, sans-serif" font-size="7" fill="#1a1a1a" stroke="#1a1a1a" stroke-width="0.15" letter-spacing="-0.05">(002)</text>
<text transform="translate(76.60,23.8) rotate(-90)" font-family="Liberation Sans, sans-serif" font-size="7" fill="#1a1a1a" stroke="#1a1a1a" stroke-width="0.15" letter-spacing="-0.05">(101)</text>
<text transform="translate(104.00,100.0) rotate(-90)" font-family="Liberation Sans, sans-serif" font-size="7" fill="#1a1a1a" stroke="#1a1a1a" stroke-width="0.15" letter-spacing="-0.05">(102)</text>
<text transform="translate(125.80,86.6) rotate(-90)" font-family="Liberation Sans, sans-serif" font-size="7" fill="#1a1a1a" stroke="#1a1a1a" stroke-width="0.15" letter-spacing="-0.05">(110)</text>
<text transform="translate(141.00,91.1) rotate(-90)" font-family="Liberation Sans, sans-serif" font-size="7" fill="#1a1a1a" stroke="#1a1a1a" stroke-width="0.15" letter-spacing="-0.05">(103)</text>
<text transform="translate(148.20,121.1) rotate(-90)" font-family="Liberation Sans, sans-serif" font-size="7" fill="#1a1a1a" stroke="#1a1a1a" stroke-width="0.15" letter-spacing="-0.05">(200)</text>
<text transform="translate(153.20,96.8) rotate(-90)" font-family="Liberation Sans, sans-serif" font-size="7" fill="#1a1a1a" stroke="#1a1a1a" stroke-width="0.15" letter-spacing="-0.05">(112)</text>
<text transform="translate(158.40,112.2) rotate(-90)" font-family="Liberation Sans, sans-serif" font-size="7" fill="#1a1a1a" stroke="#1a1a1a" stroke-width="0.15" letter-spacing="-0.05">(201)</text>
<text transform="translate(165.20,122.1) rotate(-90)" font-family="Liberation Sans, sans-serif" font-size="7" fill="#1a1a1a" stroke="#1a1a1a" stroke-width="0.15" letter-spacing="-0.05">(004)</text>
<text transform="translate(175.10,121.2) rotate(-90)" font-family="Liberation Sans, sans-serif" font-size="7" fill="#1a1a1a" stroke="#1a1a1a" stroke-width="0.15" letter-spacing="-0.05">(202)</text>
<text transform="translate(186.60,121.9) rotate(-90)" font-family="Liberation Sans, sans-serif" font-size="7" fill="#1a1a1a" stroke="#1a1a1a" stroke-width="0.15" letter-spacing="-0.05">(104)</text>
<rect x="241.6" y="6.0" width="158.60" height="242.15" fill="none" stroke="#484848" stroke-width="1.05"/>
<g stroke="#444" stroke-width="0.9">
<line x1="238.79999999999998" x2="241.6" y1="233.92" y2="233.92"/>
<line x1="238.79999999999998" x2="241.6" y1="205.43" y2="205.43"/>
<line x1="238.79999999999998" x2="241.6" y1="176.94" y2="176.94"/>
<line x1="238.79999999999998" x2="241.6" y1="148.45" y2="148.45"/>
<line x1="238.79999999999998" x2="241.6" y1="119.96" y2="119.96"/>
<line x1="238.79999999999998" x2="241.6" y1="91.47" y2="91.47"/>
<line x1="238.79999999999998" x2="241.6" y1="62.98" y2="62.98"/>
<line x1="238.79999999999998" x2="241.6" y1="34.49" y2="34.49"/>
<line x1="238.79999999999998" x2="241.6" y1="6.00" y2="6.00"/>
<line y1="248.15" y2="251.45000000000002" x1="261.3" x2="261.3" stroke="#333" stroke-width="1"/>
<line y1="248.15" y2="251.45000000000002" x1="300.9" x2="300.9" stroke="#333" stroke-width="1"/>
<line y1="248.15" y2="251.45000000000002" x1="340.5" x2="340.5" stroke="#333" stroke-width="1"/>
<line y1="248.15" y2="251.45000000000002" x1="380.3" x2="380.3" stroke="#333" stroke-width="1"/>
</g>
<text transform="translate(236.30,236.72) scale(0.895,1)" text-anchor="end" font-family="Liberation Sans, sans-serif" font-size="11.8" fill="#151515" stroke="#151515" stroke-width="0.3">40</text>
<text transform="translate(236.30,208.23) scale(0.895,1)" text-anchor="end" font-family="Liberation Sans, sans-serif" font-size="11.8" fill="#151515" stroke="#151515" stroke-width="0.3">60</text>
<text transform="translate(236.30,179.74) scale(0.895,1)" text-anchor="end" font-family="Liberation Sans, sans-serif" font-size="11.8" fill="#151515" stroke="#151515" stroke-width="0.3">80</text>
<text transform="translate(236.30,151.25) scale(0.895,1)" text-anchor="end" font-family="Liberation Sans, sans-serif" font-size="11.8" fill="#151515" stroke="#151515" stroke-width="0.3">100</text>
<text transform="translate(236.30,122.76) scale(0.895,1)" text-anchor="end" font-family="Liberation Sans, sans-serif" font-size="11.8" fill="#151515" stroke="#151515" stroke-width="0.3">120</text>
<text transform="translate(236.30,94.27) scale(0.895,1)" text-anchor="end" font-family="Liberation Sans, sans-serif" font-size="11.8" fill="#151515" stroke="#151515" stroke-width="0.3">140</text>
<text transform="translate(236.30,65.78) scale(0.895,1)" text-anchor="end" font-family="Liberation Sans, sans-serif" font-size="11.8" fill="#151515" stroke="#151515" stroke-width="0.3">160</text>
<text transform="translate(236.30,37.29) scale(0.895,1)" text-anchor="end" font-family="Liberation Sans, sans-serif" font-size="11.8" fill="#151515" stroke="#151515" stroke-width="0.3">180</text>
<text transform="translate(236.30,8.80) scale(0.895,1)" text-anchor="end" font-family="Liberation Sans, sans-serif" font-size="11.8" fill="#151515" stroke="#151515" stroke-width="0.3">200</text>
<text transform="translate(261.50,262.5) scale(0.895,1)" text-anchor="middle" font-family="Liberation Sans, sans-serif" font-size="11.8" fill="#151515" stroke="#151515" stroke-width="0.3">0</text>
<text transform="translate(301.10,262.5) scale(0.895,1)" text-anchor="middle" font-family="Liberation Sans, sans-serif" font-size="11.8" fill="#151515" stroke="#151515" stroke-width="0.3">3</text>
<text transform="translate(341.50,262.5) scale(0.895,1)" text-anchor="middle" font-family="Liberation Sans, sans-serif" font-size="11.8" fill="#151515" stroke="#151515" stroke-width="0.3">10</text>
<text transform="translate(381.30,262.5) scale(0.895,1)" text-anchor="middle" font-family="Liberation Sans, sans-serif" font-size="11.8" fill="#151515" stroke="#151515" stroke-width="0.3">14</text>
<text transform="translate(321.8,279.4) scale(0.957,1)" text-anchor="middle" font-family="Liberation Sans, sans-serif" font-size="11.4" fill="#151515" stroke="#151515" stroke-width="0.25">Milling time (minutes)</text>
<text transform="translate(210.5,134.7) rotate(-90) scale(0.953,1)" text-anchor="middle" font-family="Liberation Sans, sans-serif" font-size="11.4" fill="#151515" stroke="#151515" stroke-width="0.25">Mean particle size (nm)</text>
<text x="247.4" y="17.6" font-family="Liberation Sans, sans-serif" font-size="12" fill="#151515" stroke="#151515" stroke-width="0.25" letter-spacing="0.7">(b)</text>
<rect x="258.80" y="53.36" width="5" height="5" fill="#111"/>
<rect x="298.40" y="97.52" width="5" height="5" fill="#111"/>
<rect x="338.00" y="138.83" width="5" height="5" fill="#111"/>
<rect x="377.80" y="220.02" width="5" height="5" fill="#111"/>
<line x1="249.5" y1="32.5" x2="391.8" y2="227" stroke="#b5252c" stroke-width="1.2"/>
</svg>
</body></html>
